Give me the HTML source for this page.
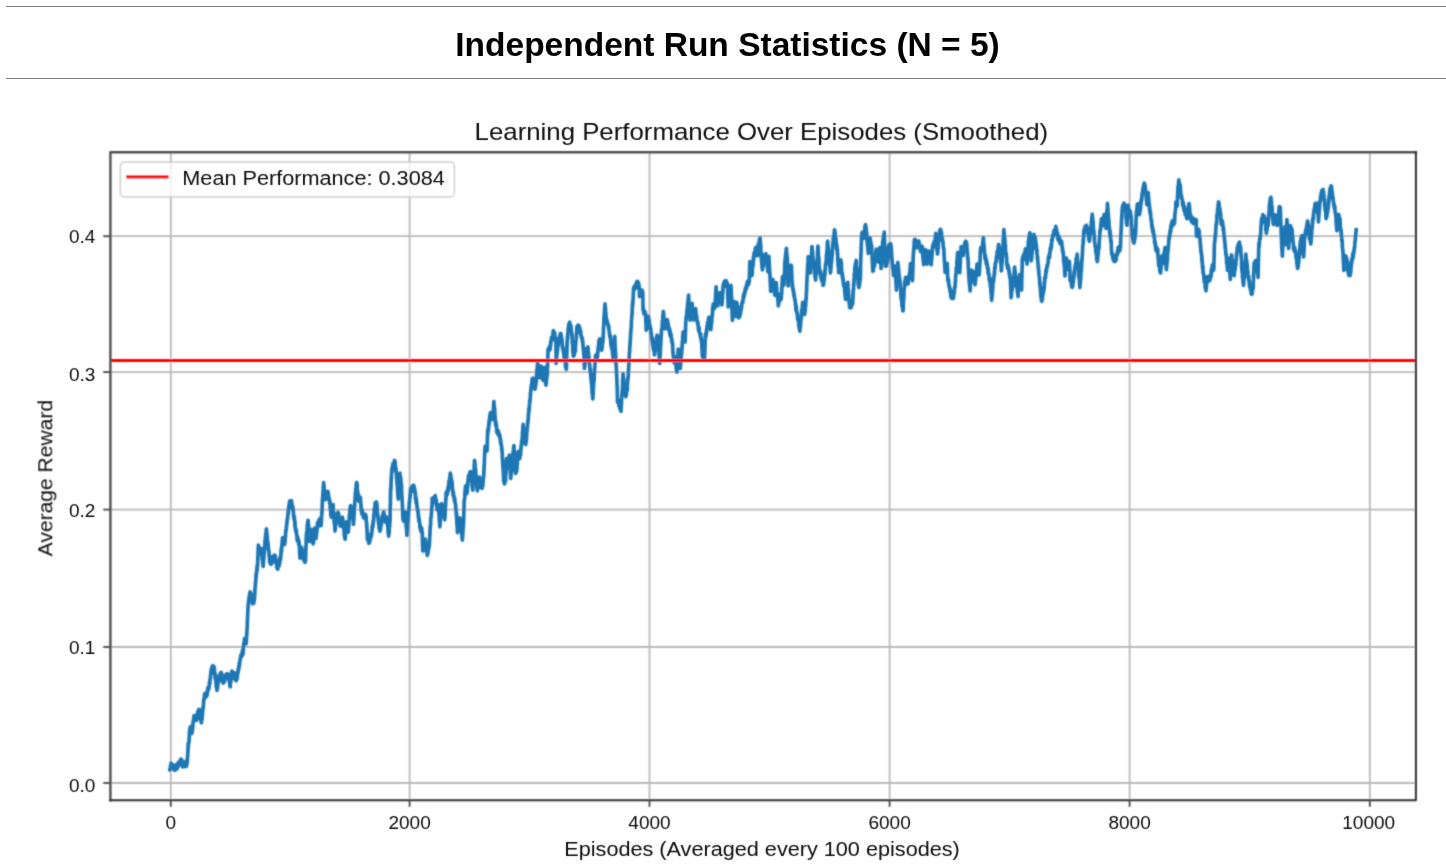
<!DOCTYPE html>
<html><head><meta charset="utf-8"><title>Independent Run Statistics</title>
<style>
html,body{margin:0;padding:0;background:#fff;}
body{width:1446px;height:864px;overflow:hidden;position:relative;font-family:"Liberation Sans",sans-serif;}
.hr{position:absolute;left:6px;right:0;height:1px;background:#808080;}
h1{will-change:transform;position:absolute;left:0;top:25px;width:1455px;margin:0;text-align:center;font-size:33.5px;line-height:40px;font-weight:bold;color:#000;white-space:nowrap;}
</style></head><body>
<div class="hr" style="top:6px"></div>
<h1>Independent Run Statistics (N = 5)</h1>
<div class="hr" style="top:78px"></div>
<svg width="1446" height="864" viewBox="0 0 1446 864" style="position:absolute;left:0;top:0">
<defs><filter id="b" x="0" y="0" width="1446" height="864" filterUnits="userSpaceOnUse"><feConvolveMatrix order="3" kernelMatrix="0.04 0.12 0.04 0.12 0.36 0.12 0.04 0.12 0.04" divisor="1" edgeMode="duplicate" preserveAlpha="false"/></filter><filter id="t" x="0" y="0" width="1446" height="864" filterUnits="userSpaceOnUse"><feConvolveMatrix order="3" kernelMatrix="0.01 0.08 0.01 0.08 0.64 0.08 0.01 0.08 0.01" divisor="1" edgeMode="duplicate" preserveAlpha="false"/></filter></defs>
<g id="chart" filter="url(#b)">
<line x1="170.8" y1="152.3" x2="170.8" y2="800.0" stroke="#b9b9b9" stroke-width="1.8"/>
<line x1="409.6" y1="152.3" x2="409.6" y2="800.0" stroke="#b9b9b9" stroke-width="1.8"/>
<line x1="649.5" y1="152.3" x2="649.5" y2="800.0" stroke="#b9b9b9" stroke-width="1.8"/>
<line x1="889.6" y1="152.3" x2="889.6" y2="800.0" stroke="#b9b9b9" stroke-width="1.8"/>
<line x1="1129.6" y1="152.3" x2="1129.6" y2="800.0" stroke="#b9b9b9" stroke-width="1.8"/>
<line x1="1369.8" y1="152.3" x2="1369.8" y2="800.0" stroke="#b9b9b9" stroke-width="1.8"/>
<line x1="110.4" y1="783.0" x2="1416.0" y2="783.0" stroke="#b9b9b9" stroke-width="1.8"/>
<line x1="110.4" y1="647.0" x2="1416.0" y2="647.0" stroke="#b9b9b9" stroke-width="1.8"/>
<line x1="110.4" y1="509.6" x2="1416.0" y2="509.6" stroke="#b9b9b9" stroke-width="1.8"/>
<line x1="110.4" y1="372.1" x2="1416.0" y2="372.1" stroke="#b9b9b9" stroke-width="1.8"/>
<line x1="110.4" y1="236.2" x2="1416.0" y2="236.2" stroke="#b9b9b9" stroke-width="1.8"/>
<path d="M169.7 770.0 169.9 769.3 170.0 768.6 170.2 767.5 170.3 766.7 170.5 765.8 170.6 765.4 170.8 764.4 170.9 763.8 171.0 763.0 171.1 763.9 171.2 763.8 171.4 764.7 171.5 764.4 171.7 764.5 171.8 765.8 172.0 766.6 172.1 765.6 172.3 766.0 172.4 767.6 172.6 765.4 172.7 764.6 172.9 768.2 173.0 766.7 173.2 765.5 173.3 767.3 173.5 768.4 173.6 768.6 173.8 768.7 173.8 769.4 173.9 769.8 174.1 768.9 174.2 767.9 174.4 769.6 174.5 770.0 174.7 768.2 174.8 769.5 175.0 770.2 175.1 768.0 175.3 766.8 175.4 768.7 175.6 768.4 175.7 769.7 175.9 765.5 176.0 766.5 176.2 766.0 176.3 764.6 176.5 767.4 176.6 768.0 176.8 765.7 176.9 769.2 177.1 768.1 177.2 767.7 177.4 767.2 177.5 768.0 177.6 764.0 177.7 767.2 177.8 766.9 178.0 762.8 178.1 765.9 178.3 764.5 178.4 766.0 178.6 763.6 178.7 764.0 178.9 764.3 179.0 761.9 179.2 764.1 179.3 762.6 179.5 763.3 179.6 761.3 179.8 763.7 179.9 762.6 180.1 761.0 180.2 762.0 180.4 762.6 180.5 762.1 180.7 759.2 180.8 760.2 180.8 760.0 181.0 760.1 181.1 759.6 181.3 762.9 181.4 759.3 181.6 762.9 181.7 764.6 181.9 760.1 182.0 762.8 182.2 761.5 182.3 764.6 182.5 766.9 182.6 766.7 182.8 764.7 182.9 765.7 182.9 766.3 183.1 766.7 183.2 766.2 183.4 764.5 183.5 766.1 183.7 765.4 183.8 765.0 184.0 764.0 184.1 765.8 184.3 765.5 184.4 764.8 184.6 764.4 184.7 762.5 184.9 763.8 185.0 766.5 185.2 764.1 185.3 761.8 185.5 766.5 185.6 765.0 185.8 766.7 185.9 764.0 186.1 763.0 186.2 761.2 186.4 765.8 186.5 766.2 186.7 761.9 186.8 762.1 187.0 764.1 187.1 761.6 187.1 762.0 187.3 759.7 187.4 758.5 187.6 757.8 187.6 755.0 187.7 755.4 187.9 751.1 188.0 750.3 188.2 744.9 188.3 743.1 188.3 746.8 188.5 743.2 188.6 743.9 188.8 742.5 188.9 742.5 189.1 740.3 189.2 739.8 189.2 737.1 189.4 734.1 189.5 732.4 189.7 731.0 189.8 728.7 189.9 728.5 190.0 728.8 190.1 729.3 190.3 728.8 190.4 726.7 190.6 729.5 190.7 730.1 190.9 731.8 191.0 731.1 191.2 729.2 191.3 729.2 191.5 733.4 191.6 732.1 191.8 733.4 191.9 732.8 192.1 730.9 192.2 731.7 192.2 731.8 192.4 730.5 192.5 729.4 192.7 727.9 192.8 726.5 193.0 722.3 193.1 723.3 193.3 721.0 193.4 721.1 193.6 718.9 193.7 718.9 193.9 717.4 194.0 715.8 194.0 715.7 194.2 715.9 194.3 715.7 194.5 716.2 194.6 715.9 194.8 717.7 194.9 717.4 195.1 718.7 195.2 715.8 195.4 719.8 195.5 717.3 195.7 717.7 195.8 718.9 196.0 718.8 196.1 720.1 196.3 719.9 196.4 719.9 196.4 719.8 196.6 720.4 196.7 719.0 196.9 716.3 197.0 717.6 197.2 714.3 197.3 719.0 197.5 713.0 197.6 715.7 197.8 715.2 197.9 711.1 198.1 713.4 198.2 714.0 198.4 712.4 198.5 711.3 198.7 711.0 198.8 709.7 198.9 709.5 199.0 709.7 199.1 711.1 199.3 710.2 199.4 713.6 199.6 712.2 199.7 712.1 199.9 715.4 200.0 718.3 200.2 718.1 200.3 716.4 200.5 719.3 200.6 718.2 200.8 719.6 200.9 720.7 201.1 719.7 201.2 722.4 201.4 722.6 201.4 722.8 201.5 721.2 201.7 719.2 201.8 717.9 202.0 719.3 202.1 719.2 202.3 715.1 202.4 715.6 202.6 712.0 202.7 708.3 202.9 709.9 203.0 709.1 203.2 706.2 203.3 706.1 203.5 705.2 203.6 701.4 203.8 699.2 203.8 701.1 203.9 699.8 204.1 698.3 204.2 699.3 204.4 698.2 204.5 694.8 204.7 694.1 204.7 693.8 204.8 693.8 205.0 694.5 205.1 693.3 205.3 695.2 205.4 696.9 205.6 695.7 205.7 693.4 205.9 695.7 206.0 697.0 206.2 695.5 206.3 694.8 206.5 696.1 206.5 694.8 206.6 695.3 206.8 694.5 206.9 692.3 207.1 695.4 207.2 693.4 207.4 690.3 207.5 692.7 207.7 690.4 207.8 687.8 208.0 688.8 208.1 689.9 208.3 690.0 208.4 688.6 208.6 687.8 208.7 688.0 208.9 686.3 209.0 688.1 209.2 685.8 209.3 685.5 209.3 685.8 209.5 682.0 209.6 681.6 209.8 684.3 209.9 681.2 210.1 679.1 210.2 679.1 210.4 676.7 210.5 676.9 210.7 674.2 210.8 674.8 211.0 670.6 211.1 674.4 211.3 670.4 211.4 668.7 211.6 668.9 211.7 668.1 211.7 668.4 211.9 667.5 212.0 668.8 212.2 671.1 212.3 666.2 212.5 668.9 212.6 667.8 212.8 668.7 212.9 665.6 213.1 666.4 213.2 669.1 213.4 668.3 213.5 671.1 213.7 667.1 213.8 668.6 214.0 671.1 214.1 667.0 214.2 666.8 214.3 669.1 214.4 670.2 214.6 672.9 214.7 672.9 214.9 672.5 215.0 675.3 215.2 678.8 215.3 679.5 215.5 675.7 215.6 679.4 215.8 679.3 215.9 683.0 216.1 682.8 216.2 687.0 216.4 687.0 216.5 687.9 216.7 687.9 216.8 688.9 216.9 690.0 217.0 690.4 217.1 689.2 217.3 687.6 217.4 689.2 217.6 686.6 217.7 685.3 217.9 683.3 218.0 682.8 218.2 681.8 218.3 679.3 218.5 682.9 218.6 681.3 218.8 679.1 218.9 680.4 219.0 678.8 219.1 678.6 219.2 675.0 219.4 677.1 219.5 678.2 219.7 679.8 219.8 679.6 220.0 679.1 220.1 674.4 220.3 673.5 220.4 676.9 220.6 675.8 220.7 677.2 220.9 675.1 221.0 675.4 221.2 672.3 221.3 675.4 221.5 673.9 221.6 674.4 221.8 674.2 221.8 673.8 221.9 674.8 222.1 675.6 222.2 677.7 222.4 678.4 222.5 677.6 222.7 678.5 222.8 682.5 223.0 681.4 223.1 683.0 223.2 683.1 223.3 682.4 223.4 681.7 223.6 681.9 223.7 681.8 223.9 681.9 224.0 678.3 224.2 679.0 224.3 679.4 224.5 681.8 224.6 675.9 224.8 678.9 224.9 676.8 225.1 678.0 225.2 676.0 225.3 677.3 225.4 679.2 225.5 677.0 225.7 677.0 225.8 676.7 226.0 674.6 226.1 676.7 226.3 675.2 226.4 674.0 226.6 675.2 226.7 674.7 226.9 676.2 227.0 674.7 227.2 673.7 227.3 676.7 227.5 675.3 227.6 674.7 227.8 674.2 227.8 673.8 227.9 674.4 228.1 675.2 228.2 677.7 228.4 677.2 228.5 675.3 228.7 678.6 228.8 677.0 229.0 680.5 229.1 679.0 229.3 679.7 229.4 682.8 229.6 683.3 229.7 681.9 229.9 685.7 230.0 686.6 230.1 685.6 230.2 686.9 230.3 684.4 230.5 682.9 230.6 681.9 230.8 678.4 230.9 681.7 231.1 679.1 231.2 675.6 231.4 675.2 231.5 672.8 231.7 672.8 231.8 672.3 231.8 671.0 232.0 671.8 232.1 672.5 232.3 674.2 232.4 675.1 232.6 672.2 232.7 672.0 232.9 674.2 233.0 673.1 233.2 673.4 233.3 676.0 233.5 677.1 233.6 675.1 233.8 674.6 233.9 676.1 234.0 672.6 234.1 675.3 234.2 673.8 234.4 678.5 234.5 677.2 234.7 676.5 234.8 676.1 235.0 674.0 235.1 678.1 235.3 679.9 235.4 676.1 235.6 678.8 235.7 679.0 235.9 675.4 236.0 679.9 236.2 680.8 236.3 679.1 236.5 678.9 236.6 679.7 236.8 678.6 236.8 679.5 236.9 679.3 237.1 676.7 237.2 678.4 237.4 675.3 237.5 672.4 237.7 674.1 237.8 671.7 238.0 673.0 238.1 669.6 238.3 672.4 238.4 668.5 238.6 669.5 238.7 666.9 238.9 666.5 238.9 669.0 239.0 666.6 239.2 664.8 239.3 662.5 239.5 665.8 239.6 664.3 239.8 661.7 239.9 661.8 240.1 658.9 240.2 658.1 240.4 657.6 240.5 658.8 240.7 657.9 240.8 655.4 241.0 657.1 241.0 657.2 241.1 655.8 241.3 657.0 241.4 654.4 241.6 654.4 241.7 655.1 241.9 654.0 242.0 655.1 242.2 651.3 242.3 655.6 242.5 651.5 242.6 652.3 242.8 649.9 242.9 653.0 243.1 653.8 243.1 653.3 243.2 651.6 243.4 646.2 243.5 646.1 243.7 645.3 243.8 643.2 244.0 645.2 244.1 642.3 244.3 640.7 244.4 639.6 244.4 638.7 244.6 639.0 244.7 639.0 244.9 641.0 245.0 641.2 245.2 642.0 245.3 643.2 245.5 639.4 245.6 641.2 245.8 642.7 245.9 642.0 246.1 643.0 246.1 643.9 246.2 642.2 246.4 640.4 246.5 637.2 246.7 634.6 246.8 634.5 247.0 629.8 247.1 628.7 247.2 628.9 247.3 624.7 247.4 620.4 247.6 617.6 247.7 614.7 247.9 610.6 247.9 608.9 248.0 608.7 248.2 603.8 248.3 603.9 248.5 604.4 248.6 601.4 248.8 599.5 248.9 598.5 249.1 597.8 249.2 597.9 249.4 595.2 249.5 596.1 249.7 596.3 249.8 593.3 250.0 592.8 250.0 592.1 250.1 591.9 250.3 593.0 250.4 592.5 250.6 595.9 250.7 593.4 250.9 598.3 251.0 597.7 251.2 594.7 251.3 599.4 251.5 601.5 251.6 598.3 251.8 601.3 251.9 600.0 252.1 601.7 252.1 600.9 252.2 601.8 252.4 599.9 252.5 599.0 252.7 601.9 252.8 603.9 253.0 600.1 253.1 602.4 253.3 601.1 253.4 600.2 253.6 601.7 253.7 603.3 253.9 598.4 254.0 601.3 254.2 600.9 254.2 597.8 254.3 600.8 254.5 598.7 254.6 592.3 254.8 594.5 254.9 589.8 255.1 587.3 255.2 588.1 255.4 583.8 255.5 581.8 255.6 583.4 255.7 582.1 255.8 580.2 256.0 575.1 256.1 573.6 256.3 577.0 256.4 572.3 256.6 573.0 256.7 569.7 256.9 570.0 257.0 566.9 257.2 570.6 257.3 565.0 257.5 565.3 257.6 564.0 257.6 566.2 257.8 558.1 257.9 556.4 258.1 552.2 258.2 548.6 258.3 545.5 258.4 545.2 258.5 546.2 258.7 546.2 258.8 548.0 259.0 547.7 259.1 547.3 259.3 549.0 259.4 550.3 259.6 553.0 259.7 550.0 259.9 552.0 260.0 554.0 260.2 551.3 260.3 552.4 260.4 553.0 260.5 553.3 260.6 553.8 260.8 552.6 260.9 553.4 261.1 550.6 261.2 549.3 261.4 548.7 261.4 550.0 261.5 550.8 261.7 550.8 261.8 555.1 262.0 552.2 262.1 558.1 262.3 560.1 262.4 557.7 262.6 558.5 262.7 563.1 262.9 561.9 263.0 565.0 263.2 565.3 263.2 566.5 263.3 564.5 263.5 562.1 263.6 559.2 263.8 559.0 263.9 553.9 264.1 554.2 264.2 552.0 264.4 551.9 264.5 546.6 264.7 549.5 264.8 544.3 265.0 540.9 265.0 544.9 265.1 544.0 265.3 539.5 265.4 536.8 265.6 536.8 265.7 534.1 265.9 533.2 266.0 534.2 266.2 531.1 266.3 529.4 266.4 528.8 266.5 529.4 266.6 531.6 266.8 533.6 266.9 533.3 267.1 535.6 267.2 539.7 267.4 539.2 267.5 539.6 267.7 544.2 267.8 543.0 268.0 542.6 268.1 546.4 268.1 544.3 268.3 546.3 268.4 549.0 268.6 549.5 268.7 549.8 268.9 551.4 269.0 552.6 269.2 556.9 269.3 555.0 269.5 556.6 269.6 561.6 269.8 559.5 269.9 562.6 270.1 563.4 270.1 563.3 270.2 562.5 270.4 563.3 270.5 563.6 270.7 564.2 270.8 562.4 271.0 564.1 271.1 564.2 271.3 559.8 271.4 563.8 271.6 561.5 271.7 560.0 271.9 560.2 272.0 563.2 272.2 562.0 272.3 557.3 272.5 560.0 272.6 559.4 272.8 559.1 272.9 558.3 272.9 556.7 273.1 560.3 273.2 557.0 273.4 557.7 273.5 557.0 273.7 556.5 273.8 558.7 274.0 557.8 274.1 555.7 274.3 555.1 274.4 555.8 274.6 556.5 274.7 555.8 274.7 555.8 274.9 556.2 275.0 556.7 275.2 558.0 275.3 555.6 275.5 561.7 275.6 558.2 275.8 559.3 275.9 563.2 276.1 561.9 276.2 562.2 276.4 561.8 276.5 560.8 276.7 564.4 276.8 566.8 277.0 563.9 277.1 568.4 277.3 564.8 277.4 566.5 277.6 568.4 277.7 568.6 277.8 569.2 277.9 568.1 278.0 567.1 278.2 565.2 278.3 564.7 278.5 564.3 278.6 563.1 278.8 565.4 278.9 563.2 279.1 561.0 279.2 565.8 279.4 561.1 279.5 559.8 279.7 563.4 279.8 562.7 280.0 558.2 280.1 557.0 280.3 557.2 280.4 560.2 280.6 557.2 280.6 556.2 280.7 556.2 280.9 556.9 281.0 551.1 281.2 551.4 281.3 548.3 281.5 551.9 281.6 550.5 281.8 548.0 281.9 544.8 282.1 544.7 282.2 540.0 282.4 541.1 282.5 538.7 282.6 537.7 282.7 538.1 282.8 538.6 283.0 539.9 283.1 540.8 283.3 540.5 283.4 538.8 283.6 542.0 283.7 541.0 283.9 543.6 284.0 540.5 284.2 539.7 284.3 542.2 284.5 544.6 284.6 543.9 284.7 543.8 284.8 543.8 284.9 542.1 285.1 540.7 285.2 537.7 285.4 537.1 285.5 535.7 285.7 532.7 285.8 530.3 286.0 530.8 286.1 530.6 286.3 528.5 286.4 526.6 286.6 525.0 286.7 525.3 286.8 522.1 286.9 523.0 287.0 523.0 287.2 519.4 287.3 518.8 287.5 519.1 287.6 519.1 287.8 515.9 287.9 515.0 288.1 513.6 288.2 510.4 288.4 513.4 288.5 510.1 288.7 506.8 288.8 508.3 289.0 504.9 289.1 504.9 289.3 505.7 289.4 503.1 289.6 505.5 289.6 501.1 289.7 503.9 289.9 504.1 290.0 505.4 290.2 504.3 290.3 502.9 290.5 502.4 290.6 501.9 290.8 503.7 290.9 500.5 291.1 501.9 291.2 501.0 291.4 501.0 291.4 500.7 291.5 502.4 291.7 501.9 291.8 503.7 292.0 504.7 292.1 506.2 292.3 506.8 292.4 507.6 292.6 509.4 292.7 506.1 292.9 509.5 293.0 508.3 293.1 511.0 293.2 509.3 293.3 510.7 293.5 513.3 293.6 516.7 293.8 516.3 293.9 516.9 294.1 519.7 294.2 516.7 294.4 516.6 294.5 519.6 294.7 520.9 294.8 524.5 295.0 526.1 295.1 522.1 295.1 527.2 295.3 528.0 295.4 527.8 295.6 528.0 295.7 531.1 295.9 529.5 296.0 529.6 296.2 531.6 296.3 530.0 296.5 534.2 296.6 534.2 296.8 535.9 296.9 537.0 297.1 535.6 297.2 540.6 297.2 536.6 297.4 540.4 297.5 536.6 297.7 540.5 297.8 539.0 298.0 540.9 298.1 540.3 298.3 539.1 298.4 540.5 298.6 543.0 298.7 544.4 298.9 541.4 299.0 541.6 299.2 543.4 299.3 544.9 299.3 544.5 299.5 547.1 299.6 552.4 299.8 554.9 299.9 557.4 300.0 558.0 300.1 558.1 300.2 556.9 300.4 554.4 300.5 556.7 300.7 554.4 300.8 552.5 301.0 554.8 301.1 552.8 301.3 551.7 301.4 550.6 301.6 549.0 301.7 547.4 301.7 548.1 301.9 549.8 302.0 548.9 302.2 550.7 302.3 552.0 302.5 554.6 302.6 555.1 302.8 555.1 302.9 554.0 303.1 556.7 303.2 556.8 303.4 556.3 303.5 559.7 303.7 558.9 303.8 558.0 304.0 560.4 304.1 560.2 304.2 560.9 304.3 559.7 304.4 560.3 304.6 558.9 304.7 558.4 304.9 557.1 305.0 562.4 305.2 559.3 305.3 559.8 305.5 561.2 305.6 559.0 305.6 558.1 305.8 550.4 305.9 548.5 306.1 543.0 306.2 540.0 306.2 538.7 306.4 534.8 306.5 532.9 306.7 532.4 306.8 533.9 307.0 531.8 307.1 530.3 307.3 525.4 307.4 523.9 307.6 524.1 307.7 523.2 307.9 521.7 308.0 520.8 308.1 520.2 308.2 521.1 308.3 522.8 308.5 525.7 308.6 527.5 308.8 529.1 308.9 533.8 309.1 532.5 309.2 535.1 309.4 535.6 309.5 538.4 309.7 540.8 309.7 541.4 309.8 540.2 310.0 539.4 310.1 538.0 310.3 534.0 310.4 532.8 310.6 537.0 310.7 534.2 310.9 531.9 311.0 529.9 311.1 529.3 311.2 531.1 311.3 530.3 311.5 532.0 311.6 534.9 311.8 534.7 311.9 536.7 312.1 536.2 312.2 540.1 312.4 536.7 312.5 537.1 312.7 540.9 312.8 543.2 313.0 542.4 313.1 543.9 313.2 543.6 313.3 542.4 313.4 542.5 313.6 541.7 313.7 540.7 313.9 535.7 314.0 532.8 314.2 531.5 314.3 531.3 314.5 530.1 314.6 528.9 314.6 528.2 314.8 530.1 314.9 531.0 315.1 532.2 315.2 533.0 315.4 533.8 315.5 536.1 315.7 536.4 315.8 537.4 316.0 538.0 316.0 538.5 316.1 536.9 316.3 534.0 316.4 535.0 316.6 532.5 316.7 533.2 316.9 530.0 317.0 528.7 317.2 527.9 317.3 526.2 317.4 525.1 317.5 522.8 317.6 527.9 317.8 522.1 317.9 523.8 318.1 525.2 318.2 524.3 318.4 524.3 318.5 524.2 318.7 524.7 318.8 522.7 319.0 524.5 319.1 519.7 319.3 521.4 319.4 520.1 319.6 519.4 319.7 520.3 319.9 520.9 320.0 518.8 320.1 518.5 320.2 519.5 320.3 520.5 320.5 523.1 320.6 524.0 320.8 523.7 320.9 524.3 321.1 525.7 321.1 525.7 321.2 523.1 321.4 520.9 321.5 517.9 321.7 514.9 321.8 511.8 322.0 512.4 322.1 508.1 322.2 506.6 322.3 503.2 322.4 500.1 322.6 498.9 322.7 497.4 322.9 494.0 323.0 491.9 323.2 491.2 323.3 487.7 323.5 484.5 323.6 482.6 323.6 482.6 323.8 484.5 323.9 484.7 324.1 487.1 324.2 490.1 324.4 490.4 324.5 490.3 324.7 492.3 324.8 495.1 325.0 496.9 325.1 498.3 325.3 499.3 325.3 498.8 325.4 499.7 325.6 498.8 325.7 498.6 325.9 498.0 326.0 495.2 326.2 495.9 326.3 496.4 326.5 497.2 326.6 495.1 326.8 491.7 326.9 493.6 327.1 494.1 327.2 495.2 327.4 493.4 327.5 493.4 327.7 492.2 327.8 491.8 327.8 491.9 328.0 491.4 328.1 494.2 328.3 495.1 328.4 494.1 328.6 496.9 328.7 497.5 328.9 496.9 329.0 498.4 329.2 499.0 329.3 500.8 329.5 500.6 329.6 503.1 329.8 500.4 329.9 503.1 329.9 501.5 330.1 504.9 330.2 508.1 330.4 508.8 330.5 510.0 330.7 511.8 330.8 515.5 331.0 513.7 331.1 516.7 331.2 516.7 331.3 517.1 331.4 516.4 331.6 514.3 331.7 514.6 331.9 514.4 332.0 510.1 332.2 511.0 332.3 509.4 332.5 506.3 332.6 507.7 332.8 506.2 332.9 506.6 333.1 504.6 333.1 506.0 333.2 506.9 333.4 510.9 333.5 512.0 333.7 513.9 333.8 516.5 334.0 518.6 334.1 521.5 334.3 523.8 334.4 522.5 334.6 523.2 334.7 525.5 334.9 528.8 335.0 531.1 335.0 530.7 335.2 529.4 335.3 527.7 335.5 525.9 335.6 525.2 335.8 525.1 335.9 520.5 336.1 523.3 336.2 518.3 336.4 519.3 336.5 517.3 336.7 516.6 336.8 514.3 336.8 514.1 337.0 515.3 337.1 513.5 337.3 517.7 337.4 513.9 337.6 513.1 337.7 512.9 337.9 512.3 338.0 512.1 338.2 512.6 338.2 512.8 338.3 512.7 338.5 514.4 338.6 513.6 338.8 516.2 338.9 517.8 339.1 519.0 339.2 519.9 339.4 518.9 339.5 522.5 339.7 521.2 339.8 523.5 340.0 524.6 340.1 524.7 340.3 525.1 340.3 526.1 340.4 524.7 340.6 523.8 340.7 522.4 340.9 524.9 341.0 522.6 341.2 519.5 341.3 522.9 341.5 523.8 341.6 523.2 341.8 518.9 341.9 519.4 342.1 519.1 342.2 518.5 342.4 517.5 342.4 517.0 342.5 519.2 342.7 520.6 342.8 519.0 343.0 521.6 343.1 523.8 343.3 524.5 343.4 526.6 343.6 528.2 343.7 529.0 343.9 529.0 344.0 528.1 344.2 532.6 344.3 535.1 344.5 536.6 344.6 534.9 344.8 536.1 344.9 538.4 345.1 539.2 345.1 539.2 345.2 538.3 345.4 535.5 345.5 535.0 345.7 530.9 345.8 530.2 346.0 528.4 346.1 526.1 346.3 523.5 346.4 522.6 346.5 521.8 346.6 521.9 346.7 522.4 346.9 524.0 347.0 525.5 347.2 526.6 347.3 524.5 347.5 526.8 347.6 527.0 347.8 526.8 347.9 527.1 348.1 529.9 348.2 530.3 348.3 532.2 348.4 530.8 348.5 528.6 348.7 526.1 348.8 527.1 349.0 520.7 349.1 519.9 349.3 516.8 349.4 515.7 349.6 513.8 349.7 512.7 349.9 508.9 350.0 507.8 350.0 508.6 350.2 507.6 350.3 507.9 350.5 506.8 350.6 505.7 350.8 508.3 350.9 510.7 351.1 508.0 351.2 506.3 351.4 509.6 351.5 509.4 351.7 511.1 351.8 511.1 352.0 509.3 352.1 510.5 352.1 507.5 352.3 513.7 352.4 513.7 352.6 516.8 352.7 518.3 352.9 517.6 353.0 519.5 353.2 520.4 353.3 522.1 353.5 524.4 353.5 524.5 353.6 521.3 353.8 520.1 353.9 516.9 354.1 515.0 354.2 510.4 354.4 506.4 354.5 507.9 354.7 505.1 354.8 501.3 354.9 500.1 355.0 499.2 355.1 497.9 355.3 495.7 355.4 492.3 355.6 494.8 355.7 489.3 355.9 489.7 356.0 488.2 356.2 487.6 356.3 483.8 356.5 484.9 356.6 482.9 356.7 482.5 356.8 483.7 356.9 483.8 357.1 483.8 357.2 488.0 357.4 491.1 357.5 492.2 357.7 490.8 357.8 493.0 358.0 495.1 358.1 493.3 358.3 496.3 358.3 497.0 358.4 500.8 358.6 497.1 358.7 501.0 358.9 498.4 359.0 495.8 359.2 501.3 359.3 497.1 359.5 499.9 359.6 501.6 359.8 498.1 359.9 497.0 360.1 501.0 360.2 499.4 360.4 497.3 360.4 497.6 360.5 499.7 360.7 503.4 360.8 502.6 361.0 505.6 361.1 508.5 361.3 509.3 361.4 510.9 361.6 511.9 361.7 508.5 361.8 514.0 361.9 512.7 362.0 512.3 362.2 511.1 362.3 510.6 362.5 511.8 362.6 514.1 362.8 512.5 362.9 513.5 363.1 514.3 363.2 516.9 363.4 515.6 363.5 516.3 363.7 517.9 363.8 517.2 363.9 517.8 364.0 516.9 364.1 517.6 364.3 517.4 364.4 517.4 364.6 516.3 364.7 515.2 364.9 516.3 365.0 515.9 365.2 518.4 365.3 518.1 365.5 514.4 365.6 517.1 365.8 515.9 365.9 516.4 366.0 515.9 366.1 516.9 366.2 520.7 366.4 522.7 366.5 522.3 366.7 523.9 366.8 528.0 367.0 529.1 367.1 532.7 367.3 536.7 367.4 539.4 367.4 536.5 367.6 539.8 367.7 539.8 367.9 537.4 368.0 535.8 368.2 540.3 368.3 540.2 368.5 542.3 368.6 542.3 368.8 541.6 368.9 543.3 369.1 539.6 369.2 541.4 369.4 541.5 369.4 542.6 369.5 541.8 369.7 539.6 369.8 541.9 370.0 538.0 370.1 540.2 370.3 537.4 370.4 538.0 370.6 538.0 370.7 536.6 370.9 534.0 371.0 537.4 371.2 535.0 371.3 533.7 371.5 534.2 371.5 531.9 371.6 534.9 371.8 531.7 371.9 531.0 372.1 530.0 372.2 527.0 372.4 525.6 372.5 527.1 372.7 526.4 372.8 527.1 373.0 524.7 373.1 521.1 373.3 523.0 373.3 523.1 373.4 522.5 373.6 519.9 373.7 515.7 373.9 518.3 374.0 513.6 374.2 514.3 374.3 509.1 374.5 511.6 374.6 507.5 374.8 509.2 374.9 508.5 375.0 507.0 375.1 502.9 375.2 502.9 375.4 502.6 375.5 504.9 375.7 503.9 375.8 503.2 376.0 503.0 376.1 502.7 376.3 502.2 376.4 502.3 376.4 501.9 376.6 503.6 376.7 503.2 376.9 504.5 377.0 507.0 377.2 507.8 377.3 511.7 377.5 514.7 377.6 513.8 377.8 515.2 377.8 515.3 377.9 517.4 378.1 517.4 378.2 520.1 378.4 521.0 378.5 522.2 378.7 524.0 378.8 523.8 379.0 525.1 379.1 528.7 379.3 527.0 379.4 529.4 379.6 529.3 379.7 530.1 379.9 531.2 379.9 530.9 380.0 530.4 380.2 528.9 380.3 528.0 380.5 529.8 380.6 526.6 380.8 527.9 380.9 525.5 381.1 525.6 381.2 522.2 381.4 522.6 381.5 524.1 381.7 521.9 381.8 521.3 381.9 519.3 382.0 520.2 382.1 516.3 382.3 516.3 382.4 518.0 382.6 518.1 382.7 515.5 382.9 515.3 383.0 514.5 383.2 514.3 383.3 512.4 383.5 512.2 383.6 513.0 383.8 511.8 383.8 512.3 383.9 513.2 384.1 513.2 384.2 515.6 384.4 515.2 384.5 516.7 384.7 515.9 384.8 517.2 385.0 520.0 385.1 520.4 385.3 520.6 385.4 521.8 385.4 521.7 385.6 521.3 385.7 522.4 385.9 519.6 386.0 520.5 386.2 520.1 386.3 518.5 386.5 517.1 386.6 518.5 386.8 517.7 386.8 517.5 386.9 518.7 387.1 520.3 387.2 520.5 387.4 523.8 387.5 522.2 387.7 526.4 387.8 525.4 388.0 528.9 388.1 532.3 388.3 532.4 388.4 534.0 388.6 536.1 388.6 536.1 388.7 534.9 388.9 533.1 389.0 534.0 389.2 531.4 389.3 529.5 389.5 525.1 389.6 526.6 389.8 521.8 389.9 523.2 390.0 519.7 390.1 520.5 390.2 506.8 390.4 503.4 390.5 494.5 390.6 488.7 390.7 489.0 390.8 489.5 391.0 486.6 391.1 479.6 391.3 478.9 391.4 475.4 391.6 473.3 391.7 471.5 391.9 473.0 391.9 469.3 392.0 468.4 392.2 467.7 392.3 468.8 392.5 468.3 392.6 465.0 392.8 468.6 392.9 463.7 393.1 464.5 393.2 465.2 393.4 466.7 393.5 462.8 393.7 463.3 393.8 464.5 394.0 462.7 394.1 462.5 394.3 461.3 394.4 460.3 394.4 460.4 394.6 461.4 394.7 461.8 394.9 465.0 395.0 461.0 395.2 463.0 395.3 468.0 395.5 467.2 395.6 466.3 395.8 469.0 395.9 471.1 396.1 469.3 396.1 471.8 396.2 471.7 396.4 473.7 396.5 475.8 396.7 479.8 396.8 478.0 397.0 481.3 397.1 485.1 397.3 483.9 397.4 485.3 397.6 490.9 397.7 491.9 397.9 493.8 398.0 496.1 398.2 497.5 398.2 499.1 398.3 496.0 398.5 494.0 398.6 490.3 398.8 489.5 398.9 490.7 399.1 486.1 399.2 485.0 399.4 481.1 399.5 482.5 399.7 478.0 399.8 475.0 400.0 474.1 400.0 473.1 400.1 474.7 400.3 475.9 400.4 477.4 400.6 478.6 400.7 478.2 400.9 478.5 401.0 484.1 401.2 483.5 401.3 485.6 401.4 484.9 401.5 484.8 401.6 488.4 401.8 496.1 401.9 495.5 402.1 499.3 402.2 500.6 402.4 505.3 402.5 508.7 402.7 512.2 402.8 515.6 403.0 518.5 403.1 520.2 403.1 520.2 403.3 519.9 403.4 518.8 403.6 521.2 403.7 518.1 403.9 517.4 404.0 515.5 404.2 517.7 404.3 513.6 404.5 512.2 404.6 512.5 404.8 514.4 404.9 512.2 405.1 513.1 405.1 512.2 405.2 512.4 405.4 514.9 405.5 519.0 405.7 517.2 405.8 518.3 406.0 523.2 406.1 526.4 406.3 527.8 406.4 527.3 406.6 530.0 406.7 531.9 406.9 534.1 406.9 535.3 407.0 533.3 407.2 532.3 407.3 528.8 407.5 528.2 407.6 523.5 407.8 521.8 407.9 521.8 408.1 517.5 408.2 518.5 408.4 514.0 408.5 513.0 408.7 510.7 408.8 508.3 408.9 508.2 409.0 508.9 409.1 508.4 409.3 502.1 409.4 503.1 409.6 500.8 409.7 498.0 409.9 498.6 410.0 495.1 410.2 495.0 410.3 495.7 410.5 489.5 410.6 491.0 410.7 490.6 410.8 488.2 410.9 490.6 411.1 490.2 411.2 488.9 411.4 491.4 411.5 487.0 411.7 490.2 411.8 488.6 412.0 487.1 412.1 488.4 412.3 488.0 412.4 489.9 412.6 485.8 412.7 487.9 412.9 487.4 413.0 490.7 413.2 486.0 413.3 489.6 413.5 485.1 413.6 488.1 413.8 487.3 413.9 487.7 414.1 486.9 414.2 486.4 414.2 486.8 414.4 489.5 414.5 489.8 414.7 489.0 414.8 493.0 415.0 491.2 415.1 492.2 415.3 492.4 415.4 497.5 415.6 499.3 415.7 495.8 415.9 498.9 416.0 501.1 416.2 503.3 416.2 498.4 416.3 501.7 416.5 503.5 416.6 500.9 416.8 505.1 416.9 505.8 417.1 507.7 417.2 506.4 417.4 509.1 417.5 508.4 417.7 511.5 417.8 511.7 418.0 511.8 418.1 511.0 418.3 517.2 418.3 516.7 418.4 516.9 418.6 515.3 418.7 516.8 418.9 521.3 419.0 520.7 419.2 519.0 419.3 521.5 419.5 522.7 419.6 523.1 419.8 522.8 419.9 527.6 420.1 527.4 420.2 527.1 420.4 525.9 420.4 527.7 420.5 528.9 420.7 530.6 420.8 528.7 421.0 531.5 421.1 530.1 421.3 528.8 421.4 527.7 421.6 528.5 421.7 528.2 421.9 530.7 422.0 531.8 422.2 533.8 422.2 531.5 422.3 533.3 422.5 542.1 422.6 545.8 422.8 550.7 422.8 550.9 422.9 549.7 423.1 550.3 423.2 549.5 423.4 550.9 423.5 549.3 423.7 548.2 423.8 548.2 424.0 544.9 424.1 543.9 424.3 543.9 424.4 541.1 424.6 542.3 424.7 541.3 424.9 542.1 425.0 540.4 425.2 539.0 425.3 539.3 425.3 540.3 425.5 539.7 425.6 541.0 425.8 543.0 425.9 541.9 426.1 544.4 426.2 546.5 426.4 545.4 426.5 549.3 426.7 550.6 426.8 548.9 427.0 552.3 427.1 554.3 427.3 554.5 427.4 555.5 427.4 555.2 427.6 553.8 427.7 554.3 427.9 552.8 428.0 549.6 428.2 551.2 428.3 550.9 428.5 549.9 428.6 546.5 428.8 547.5 428.9 548.2 429.1 545.3 429.2 546.1 429.4 545.4 429.4 542.7 429.5 542.3 429.7 537.7 429.8 537.0 430.0 532.0 430.1 528.2 430.1 528.8 430.3 526.9 430.4 525.7 430.6 523.9 430.7 519.1 430.9 518.0 431.0 517.7 431.2 515.9 431.3 513.2 431.5 513.8 431.6 511.0 431.8 507.0 431.9 506.3 432.1 505.4 432.2 501.7 432.2 498.4 432.4 501.1 432.5 500.9 432.7 503.4 432.8 497.8 433.0 503.0 433.1 499.9 433.3 501.6 433.4 499.4 433.6 500.1 433.7 501.5 433.9 499.6 434.0 501.1 434.2 499.0 434.3 498.3 434.5 498.5 434.6 497.9 434.8 498.4 434.9 500.7 435.1 496.3 435.2 495.5 435.4 498.0 435.5 498.7 435.7 498.2 435.7 498.3 435.8 499.4 436.0 499.3 436.1 501.5 436.3 499.8 436.4 502.8 436.6 506.2 436.7 504.5 436.9 506.5 437.0 508.3 437.1 509.6 437.2 509.8 437.3 510.0 437.5 510.2 437.6 505.3 437.8 504.7 437.9 507.2 438.1 508.0 438.2 504.7 438.4 505.3 438.5 505.1 438.5 506.1 438.7 508.2 438.8 511.2 439.0 514.7 439.1 515.2 439.3 518.6 439.4 521.9 439.6 520.8 439.7 523.5 439.9 526.4 439.9 526.8 440.0 523.8 440.2 522.7 440.3 518.8 440.5 518.6 440.6 513.7 440.8 513.7 440.9 510.7 441.1 508.2 441.2 506.4 441.2 505.9 441.4 505.2 441.5 506.5 441.7 503.5 441.8 507.9 442.0 509.0 442.1 507.5 442.3 507.7 442.4 507.1 442.6 508.6 442.7 506.7 442.9 508.8 443.0 507.4 443.2 507.3 443.3 508.4 443.3 508.2 443.5 506.6 443.6 513.4 443.8 512.5 443.9 510.7 444.1 516.7 444.2 516.2 444.4 517.8 444.5 519.3 444.7 519.7 444.7 519.7 444.8 518.7 445.0 516.1 445.1 514.5 445.3 509.0 445.4 507.0 445.6 505.3 445.7 501.2 445.9 498.5 446.0 496.5 446.1 492.7 446.2 496.8 446.3 492.4 446.5 493.7 446.6 492.8 446.8 491.9 446.9 493.7 447.1 494.2 447.2 494.6 447.4 492.8 447.5 490.8 447.7 492.7 447.8 488.5 448.0 490.7 448.1 491.2 448.2 491.2 448.3 487.6 448.4 485.7 448.6 489.5 448.7 484.8 448.9 481.6 449.0 481.0 449.2 481.9 449.2 483.8 449.3 480.7 449.5 481.6 449.6 478.8 449.8 478.1 449.9 477.3 450.1 474.7 450.2 473.9 450.3 473.2 450.4 473.6 450.5 475.4 450.7 474.7 450.8 476.9 451.0 476.3 451.1 478.4 451.3 478.5 451.4 482.2 451.6 481.4 451.7 481.9 451.7 484.8 451.9 480.6 452.0 482.7 452.2 483.0 452.3 487.0 452.5 489.0 452.6 490.5 452.8 491.1 452.9 490.3 453.1 495.5 453.1 493.5 453.2 493.2 453.4 492.4 453.5 495.7 453.7 494.9 453.8 495.7 454.0 497.5 454.1 498.2 454.3 497.1 454.4 501.3 454.6 498.2 454.7 498.7 454.9 501.8 455.0 502.2 455.1 502.7 455.2 502.1 455.3 504.3 455.5 504.6 455.6 504.1 455.8 509.5 455.9 507.9 456.1 510.5 456.2 513.5 456.4 513.7 456.5 517.7 456.5 512.7 456.7 516.4 456.8 520.6 457.0 525.6 457.1 525.7 457.3 527.7 457.4 532.2 457.5 532.6 457.6 532.4 457.7 531.9 457.9 529.1 458.0 527.9 458.2 528.2 458.3 525.8 458.5 525.3 458.6 522.0 458.8 522.1 458.9 519.6 459.1 518.5 459.2 519.3 459.3 518.0 459.4 518.5 459.5 517.9 459.7 519.2 459.8 519.5 460.0 518.0 460.1 522.0 460.3 520.4 460.4 521.9 460.6 520.3 460.7 525.0 460.7 524.9 460.9 525.8 461.0 525.1 461.2 527.2 461.3 531.7 461.5 530.6 461.6 533.1 461.8 534.4 461.9 533.9 462.1 538.6 462.2 537.8 462.4 540.1 462.4 539.8 462.5 536.7 462.7 535.7 462.8 533.9 463.0 530.9 463.1 527.2 463.3 527.1 463.4 526.0 463.5 523.7 463.6 522.9 463.7 516.8 463.9 511.8 464.0 508.1 464.2 500.0 464.2 500.2 464.3 500.3 464.5 498.6 464.6 498.7 464.8 496.4 464.9 493.1 465.1 491.5 465.2 489.2 465.4 487.6 465.5 486.0 465.6 486.3 465.7 486.2 465.8 487.0 466.0 488.4 466.1 488.1 466.3 489.4 466.4 487.9 466.6 491.9 466.7 492.0 466.9 493.2 466.9 493.7 467.0 491.8 467.2 492.1 467.3 489.4 467.5 487.8 467.6 483.0 467.8 485.1 467.9 483.1 468.1 480.0 468.2 479.4 468.3 479.9 468.4 477.0 468.5 475.6 468.7 479.0 468.8 476.7 469.0 475.5 469.1 477.9 469.3 475.2 469.4 474.2 469.6 474.5 469.7 472.9 469.9 473.5 470.0 472.8 470.2 471.6 470.3 471.5 470.4 471.5 470.5 471.9 470.6 473.1 470.8 474.7 470.9 475.2 471.1 476.6 471.2 476.1 471.4 477.2 471.5 480.4 471.7 476.7 471.8 481.1 471.8 483.2 472.0 479.2 472.1 486.2 472.3 482.2 472.4 487.0 472.6 489.1 472.7 490.2 472.8 489.6 472.9 487.8 473.0 484.8 473.2 484.5 473.3 480.4 473.5 478.6 473.6 476.6 473.8 474.4 473.9 472.1 474.1 468.9 474.2 464.2 474.4 464.7 474.5 460.3 474.6 460.8 474.7 460.8 474.8 462.5 475.0 463.6 475.1 465.2 475.3 467.4 475.4 468.5 475.6 468.7 475.7 473.6 475.9 472.8 476.0 477.1 476.0 475.1 476.2 475.9 476.3 479.6 476.5 482.0 476.6 480.7 476.8 483.5 476.9 487.8 477.1 486.4 477.2 488.7 477.4 490.8 477.4 490.0 477.5 488.8 477.7 487.0 477.8 488.4 478.0 488.0 478.1 486.9 478.3 485.7 478.4 481.9 478.6 484.2 478.7 484.1 478.9 480.0 479.0 481.6 479.2 478.9 479.3 478.4 479.4 477.7 479.5 477.0 479.6 479.7 479.8 478.9 479.9 480.7 480.1 481.1 480.2 483.8 480.4 484.7 480.5 485.1 480.7 486.9 480.8 487.3 480.8 487.0 481.0 486.2 481.1 486.6 481.3 486.3 481.4 485.0 481.6 484.8 481.7 487.1 481.9 487.7 482.0 488.4 482.2 487.4 482.3 484.1 482.5 485.5 482.6 482.6 482.8 485.9 482.9 485.1 482.9 483.4 483.1 482.1 483.2 479.7 483.4 476.9 483.5 478.1 483.7 476.4 483.8 473.0 483.9 472.4 484.0 469.1 484.1 465.1 484.3 465.1 484.4 458.7 484.6 456.7 484.7 452.8 484.9 450.0 485.0 446.9 485.0 447.3 485.2 446.5 485.3 447.4 485.5 450.0 485.6 446.3 485.8 447.2 485.9 450.9 486.1 449.5 486.2 450.9 486.4 446.5 486.5 449.8 486.7 448.0 486.8 448.8 487.0 450.5 487.1 451.0 487.1 448.4 487.3 443.7 487.4 439.0 487.6 434.7 487.6 430.6 487.7 434.9 487.9 432.2 488.0 429.5 488.2 428.2 488.3 430.7 488.5 429.7 488.6 425.1 488.8 425.5 488.9 426.0 489.1 420.8 489.2 420.7 489.4 423.0 489.5 418.5 489.7 417.9 489.8 415.2 490.0 415.3 490.1 416.1 490.3 413.9 490.4 412.7 490.4 413.0 490.6 414.7 490.7 414.5 490.9 413.9 491.0 415.5 491.2 416.4 491.3 416.4 491.5 413.9 491.6 417.6 491.8 417.2 491.9 418.8 492.1 417.7 492.2 419.4 492.2 418.6 492.4 416.6 492.5 417.3 492.7 413.6 492.8 413.5 493.0 411.1 493.1 411.8 493.3 410.3 493.4 408.7 493.6 406.2 493.7 403.0 493.9 401.6 493.9 402.3 494.0 403.5 494.2 406.4 494.3 408.1 494.5 407.4 494.6 410.0 494.8 411.8 494.9 414.1 495.1 417.2 495.2 420.7 495.3 422.6 495.4 419.2 495.5 420.9 495.7 425.4 495.8 425.3 496.0 425.1 496.1 422.9 496.3 424.8 496.4 427.8 496.6 427.5 496.7 432.1 496.9 430.5 497.0 431.7 497.2 431.6 497.3 432.7 497.4 433.1 497.5 433.1 497.6 433.1 497.8 433.8 497.9 433.6 498.1 434.8 498.2 430.7 498.4 433.2 498.5 433.1 498.7 433.6 498.8 432.7 498.8 433.2 499.0 433.0 499.1 434.8 499.3 435.5 499.4 434.4 499.6 435.3 499.7 436.6 499.9 438.3 500.0 435.9 500.2 440.0 500.3 438.5 500.5 442.4 500.6 442.8 500.8 440.2 500.8 440.0 500.9 444.5 501.1 444.0 501.2 445.0 501.4 444.4 501.5 446.0 501.7 448.8 501.8 449.6 501.9 448.0 502.0 452.0 502.1 452.9 502.3 453.2 502.4 459.0 502.6 459.5 502.7 463.6 502.9 463.8 503.0 467.8 503.1 465.1 503.2 470.7 503.3 470.9 503.5 476.3 503.6 478.3 503.8 481.6 503.8 482.0 503.9 481.8 504.1 482.7 504.2 479.6 504.4 483.9 504.5 483.8 504.7 478.9 504.8 479.5 505.0 479.7 505.1 480.6 505.3 480.8 505.4 477.7 505.6 481.3 505.6 479.5 505.7 474.7 505.9 474.7 506.0 469.0 506.2 467.6 506.3 463.1 506.5 459.2 506.5 458.7 506.6 459.1 506.8 459.3 506.9 458.7 507.1 460.9 507.2 464.0 507.4 463.6 507.5 467.2 507.7 466.3 507.8 467.2 507.9 468.0 508.0 466.8 508.1 465.8 508.3 463.8 508.4 460.5 508.6 459.2 508.7 461.8 508.9 458.5 509.0 457.7 509.2 455.7 509.3 455.0 509.3 456.0 509.5 458.2 509.6 460.1 509.8 465.6 509.9 465.6 510.1 467.7 510.2 472.7 510.4 471.7 510.5 476.3 510.7 477.9 510.7 478.5 510.8 477.1 511.0 476.0 511.1 474.3 511.3 473.0 511.4 471.2 511.6 471.6 511.7 470.3 511.9 467.1 512.0 465.6 512.1 463.0 512.2 460.9 512.3 462.3 512.5 459.9 512.6 459.9 512.8 454.3 512.9 458.3 513.1 451.9 513.2 452.7 513.4 452.9 513.5 448.0 513.7 447.9 513.8 446.1 513.9 445.5 514.0 446.8 514.1 450.1 514.3 452.9 514.4 454.4 514.6 459.5 514.7 462.2 514.9 462.2 515.0 464.3 515.2 466.7 515.3 469.2 515.5 472.6 515.6 473.5 515.6 472.9 515.8 472.3 515.9 472.6 516.1 470.6 516.2 471.2 516.4 470.0 516.5 471.8 516.7 470.9 516.8 465.8 516.9 467.5 517.0 468.6 517.1 464.6 517.3 464.7 517.4 461.8 517.6 460.1 517.7 457.0 517.9 455.2 518.0 453.2 518.1 451.7 518.2 452.4 518.3 452.5 518.5 456.2 518.6 454.9 518.8 455.5 518.9 455.7 519.1 455.0 519.2 455.1 519.4 457.9 519.5 457.1 519.7 458.7 519.7 458.2 519.8 457.4 520.0 456.0 520.1 455.0 520.3 454.1 520.4 455.5 520.6 454.5 520.7 448.8 520.9 450.1 521.0 449.7 521.2 445.9 521.3 445.3 521.5 444.5 521.6 441.4 521.8 444.1 521.8 442.7 521.9 440.9 522.1 439.0 522.2 437.1 522.4 437.2 522.5 432.6 522.7 431.2 522.8 427.5 523.0 425.9 523.1 424.3 523.1 425.1 523.3 426.2 523.4 427.5 523.6 430.9 523.7 433.1 523.9 434.2 524.0 434.0 524.2 437.3 524.3 435.7 524.4 441.4 524.5 439.8 524.6 440.7 524.8 442.7 524.9 440.5 525.1 443.3 525.2 441.3 525.4 443.4 525.5 442.5 525.7 443.6 525.8 444.6 525.8 443.6 526.0 442.2 526.1 440.7 526.3 440.0 526.4 440.7 526.6 435.6 526.7 432.3 526.9 432.4 527.0 429.3 527.2 429.6 527.2 430.1 527.3 427.2 527.5 425.9 527.6 422.5 527.8 423.8 527.9 420.4 528.1 421.7 528.2 419.8 528.4 414.8 528.5 413.8 528.6 413.5 528.7 414.1 528.8 408.5 529.0 409.7 529.1 410.9 529.3 406.6 529.4 405.7 529.6 403.8 529.7 400.3 529.9 402.4 530.0 400.0 530.0 399.6 530.2 399.0 530.3 397.6 530.5 392.0 530.6 394.1 530.8 390.8 530.9 390.6 531.1 387.6 531.2 385.8 531.4 387.4 531.4 385.6 531.5 384.5 531.7 383.7 531.8 383.6 532.0 382.7 532.1 379.2 532.3 379.7 532.4 380.2 532.6 380.2 532.7 379.6 532.8 378.2 532.9 379.9 533.0 379.9 533.2 381.2 533.3 380.4 533.5 380.9 533.6 385.1 533.8 383.0 533.9 383.9 534.1 386.7 534.2 388.1 534.4 383.7 534.5 386.6 534.7 387.5 534.8 389.0 534.9 389.1 535.0 387.8 535.1 387.4 535.3 387.6 535.4 387.6 535.6 384.4 535.7 385.6 535.9 382.2 536.0 379.8 536.2 379.6 536.2 381.9 536.3 381.9 536.5 375.6 536.6 373.5 536.8 374.2 536.9 369.3 537.1 371.0 537.2 369.4 537.4 364.2 537.5 364.0 537.6 361.9 537.7 363.0 537.8 363.5 538.0 364.3 538.1 365.9 538.3 368.4 538.4 368.2 538.6 369.1 538.7 367.7 538.9 372.0 539.0 372.4 539.2 375.9 539.3 374.5 539.5 375.4 539.6 376.2 539.7 377.7 539.8 376.8 539.9 375.2 540.1 376.3 540.2 375.9 540.4 371.5 540.5 369.3 540.7 371.5 540.8 367.7 541.0 368.0 541.1 366.1 541.1 366.8 541.3 366.6 541.4 368.3 541.6 371.1 541.7 371.2 541.9 370.5 542.0 374.9 542.2 374.7 542.3 374.1 542.5 374.4 542.6 376.0 542.8 379.4 542.9 377.6 543.1 379.3 543.2 379.7 543.2 380.5 543.4 378.4 543.5 378.2 543.7 376.9 543.8 373.6 544.0 374.5 544.1 373.4 544.3 369.2 544.4 369.4 544.6 368.4 544.6 367.4 544.7 369.7 544.9 370.1 545.0 374.1 545.2 374.4 545.3 378.7 545.5 379.2 545.6 379.8 545.8 383.8 545.9 384.9 546.0 385.1 546.1 384.7 546.2 382.4 546.4 382.3 546.5 380.2 546.7 378.2 546.8 378.5 547.0 373.6 547.1 376.0 547.3 369.8 547.4 374.4 547.4 370.3 547.6 364.7 547.7 359.1 547.9 356.5 548.0 350.5 548.1 349.4 548.2 351.3 548.3 348.6 548.5 348.7 548.6 349.7 548.8 350.6 548.9 348.3 549.1 348.6 549.2 348.2 549.4 349.2 549.5 350.2 549.7 345.9 549.8 347.1 550.0 347.1 550.1 348.0 550.1 349.4 550.3 346.1 550.4 345.6 550.6 346.3 550.7 341.3 550.9 341.2 551.0 340.9 551.2 340.7 551.3 340.2 551.5 338.0 551.5 341.1 551.6 337.1 551.8 337.5 551.9 339.3 552.1 338.4 552.2 336.6 552.4 336.8 552.5 337.1 552.7 335.3 552.8 336.0 553.0 332.8 553.1 334.1 553.3 330.7 553.4 331.7 553.6 331.4 553.7 332.8 553.9 331.4 553.9 331.8 554.0 331.8 554.2 332.9 554.3 333.5 554.5 333.2 554.6 336.9 554.8 333.3 554.9 338.0 555.1 340.2 555.2 337.0 555.4 339.2 555.5 337.2 555.7 340.6 555.8 339.6 556.0 342.3 556.0 341.7 556.1 363.4 556.1 363.4 556.3 361.6 556.4 360.6 556.6 360.7 556.7 357.1 556.9 354.1 557.0 353.1 557.2 353.1 557.3 348.5 557.5 350.7 557.6 348.8 557.8 343.6 557.9 346.9 558.1 340.6 558.1 343.0 558.2 344.9 558.4 339.5 558.5 339.0 558.7 339.3 558.8 338.9 559.0 340.0 559.1 338.8 559.3 338.3 559.4 337.8 559.6 337.8 559.7 336.1 559.9 337.6 560.0 336.5 560.2 334.2 560.3 338.1 560.5 333.3 560.6 334.9 560.8 333.5 560.8 333.8 560.9 334.5 561.1 336.0 561.2 338.3 561.4 336.0 561.5 341.2 561.7 340.3 561.8 339.2 562.0 339.3 562.1 345.4 562.2 346.1 562.3 343.7 562.4 346.1 562.6 348.1 562.7 347.0 562.9 347.1 563.0 348.7 563.2 351.2 563.3 350.8 563.5 349.7 563.6 354.1 563.8 350.9 563.9 353.5 564.1 357.9 564.2 357.2 564.3 357.8 564.4 357.9 564.5 360.4 564.7 359.5 564.8 357.6 565.0 361.8 565.1 359.4 565.3 360.3 565.4 366.6 565.6 366.8 565.7 365.0 565.9 366.6 566.0 367.7 566.2 369.2 566.3 369.0 566.4 369.3 566.5 366.3 566.6 361.0 566.8 355.6 566.9 348.9 567.1 345.2 567.1 341.7 567.2 341.7 567.4 338.8 567.5 336.4 567.7 338.5 567.8 334.0 568.0 331.0 568.1 331.1 568.3 327.4 568.4 328.4 568.5 328.3 568.6 328.3 568.7 324.2 568.9 325.3 569.0 327.7 569.2 324.3 569.3 326.4 569.5 325.8 569.6 322.1 569.8 323.4 569.9 322.9 569.9 323.3 570.1 324.8 570.2 325.1 570.4 325.5 570.5 327.3 570.7 326.4 570.8 328.7 571.0 325.8 571.1 332.0 571.3 329.3 571.4 332.0 571.6 332.4 571.7 332.5 571.7 333.3 571.9 335.4 572.0 334.5 572.2 338.6 572.3 343.7 572.5 342.0 572.6 344.1 572.8 350.6 572.9 351.8 573.1 353.6 573.2 354.3 573.3 356.0 573.4 356.1 573.5 355.6 573.7 354.7 573.8 351.8 574.0 352.5 574.1 350.7 574.3 355.4 574.4 351.6 574.6 351.5 574.7 351.8 574.9 350.8 575.0 351.2 575.2 348.7 575.3 346.7 575.4 351.6 575.5 347.0 575.6 345.3 575.8 342.6 575.9 340.9 576.1 339.8 576.2 339.0 576.4 333.8 576.5 334.0 576.7 330.2 576.8 331.6 576.8 327.3 577.0 329.2 577.1 329.8 577.3 325.8 577.4 327.8 577.6 327.5 577.7 325.4 577.9 326.0 578.0 326.4 578.2 325.5 578.2 325.1 578.3 325.6 578.5 326.7 578.6 328.6 578.8 328.6 578.9 329.0 579.1 330.9 579.2 326.1 579.4 326.8 579.5 327.0 579.7 331.7 579.8 328.0 580.0 331.2 580.1 333.0 580.3 329.8 580.3 331.1 580.4 332.3 580.6 334.5 580.7 331.1 580.9 334.8 581.0 335.9 581.2 335.5 581.3 336.0 581.5 338.4 581.6 337.1 581.8 337.2 581.9 337.1 582.1 339.3 582.2 338.2 582.4 340.3 582.4 339.4 582.5 342.6 582.7 340.6 582.8 343.5 583.0 345.3 583.1 346.7 583.3 349.3 583.4 349.4 583.6 351.6 583.7 354.1 583.8 353.1 583.9 352.8 584.0 356.1 584.2 362.4 584.3 365.2 584.4 368.5 584.5 368.0 584.6 367.5 584.8 366.6 584.9 362.0 585.1 362.9 585.2 360.6 585.4 357.4 585.5 359.4 585.7 356.6 585.8 356.2 586.0 356.8 586.1 354.5 586.3 352.2 586.4 349.7 586.5 348.3 586.6 349.5 586.7 348.7 586.9 348.9 587.0 348.3 587.2 349.1 587.3 351.6 587.5 348.4 587.6 348.4 587.8 349.2 587.9 349.4 587.9 346.9 588.1 347.7 588.2 350.9 588.4 353.1 588.5 353.6 588.7 354.7 588.8 356.3 589.0 358.8 589.1 360.7 589.3 359.7 589.3 361.8 589.4 364.4 589.6 364.9 589.7 364.1 589.9 367.1 590.0 369.0 590.2 371.6 590.3 369.0 590.5 374.1 590.6 373.5 590.8 375.9 590.9 378.1 591.1 376.7 591.1 377.2 591.2 379.8 591.4 383.1 591.5 382.8 591.7 383.2 591.8 386.3 592.0 390.0 592.1 393.2 592.3 392.2 592.4 394.6 592.6 396.7 592.7 398.7 592.8 398.9 592.9 397.6 593.0 395.4 593.2 392.8 593.3 390.2 593.5 385.9 593.6 384.1 593.8 381.3 593.9 381.7 594.1 379.8 594.2 376.3 594.2 377.7 594.4 372.5 594.5 370.5 594.7 366.8 594.8 367.4 595.0 364.2 595.1 363.1 595.3 361.8 595.4 358.5 595.6 355.3 595.6 357.1 595.7 356.8 595.9 356.8 596.0 357.7 596.2 356.0 596.3 355.7 596.5 358.7 596.6 357.6 596.8 355.4 596.9 353.8 597.1 354.4 597.2 355.6 597.4 356.2 597.5 357.3 597.6 354.0 597.7 354.3 597.8 352.0 598.0 351.2 598.1 348.9 598.3 346.3 598.4 348.3 598.6 345.3 598.7 344.9 598.9 341.8 599.0 340.7 599.0 340.9 599.2 339.9 599.3 339.6 599.5 342.3 599.6 341.5 599.8 338.8 599.9 340.5 600.1 340.2 600.2 341.3 600.4 345.0 600.5 341.6 600.7 345.5 600.8 342.5 601.0 341.9 601.1 346.0 601.1 345.1 601.3 347.3 601.4 348.5 601.6 348.8 601.7 350.1 601.8 349.5 601.9 349.1 602.0 348.2 602.2 346.5 602.3 345.9 602.5 342.2 602.6 343.2 602.8 342.4 602.9 339.0 603.1 337.8 603.2 335.9 603.2 336.1 603.4 331.9 603.5 327.7 603.7 325.9 603.8 322.7 604.0 317.0 604.1 316.9 604.2 315.7 604.3 314.5 604.4 311.1 604.6 310.6 604.7 308.3 604.9 305.2 605.0 303.9 605.0 304.4 605.2 306.4 605.3 306.8 605.5 308.1 605.6 311.6 605.8 311.7 605.9 318.0 606.1 315.8 606.2 317.7 606.4 322.0 606.4 320.4 606.5 318.8 606.7 321.7 606.8 320.7 607.0 322.0 607.1 320.6 607.3 322.2 607.4 323.9 607.6 324.4 607.7 323.1 607.9 324.2 608.0 324.4 608.2 326.5 608.3 326.5 608.5 325.1 608.6 328.7 608.8 326.8 608.8 328.8 608.9 327.6 609.1 330.7 609.2 331.1 609.4 332.4 609.5 334.2 609.7 335.2 609.8 335.7 610.0 336.8 610.1 335.4 610.1 337.6 610.3 335.9 610.4 336.8 610.6 339.8 610.7 340.8 610.9 344.6 611.0 344.1 611.2 345.7 611.3 344.3 611.5 346.4 611.6 348.5 611.8 348.4 611.9 349.0 612.1 349.5 612.2 348.7 612.2 348.7 612.4 349.1 612.5 353.5 612.7 353.7 612.8 354.3 613.0 357.2 613.1 357.7 613.3 360.0 613.3 360.8 613.4 358.7 613.6 355.4 613.7 351.4 613.9 353.6 614.0 349.0 614.2 343.7 614.3 344.6 614.5 339.3 614.6 337.9 614.7 336.3 614.8 337.3 614.9 339.9 615.1 345.8 615.2 346.4 615.4 350.9 615.5 353.6 615.7 354.0 615.7 356.3 615.8 360.0 616.0 364.1 616.1 364.8 616.3 368.9 616.4 370.6 616.6 375.1 616.7 374.3 616.8 379.6 616.9 379.5 617.0 384.1 617.2 386.9 617.3 392.3 617.5 399.6 617.5 402.2 617.6 398.6 617.8 399.0 617.9 401.4 618.1 401.4 618.2 400.4 618.4 401.5 618.5 401.5 618.7 403.6 618.8 404.3 619.0 406.1 619.1 405.3 619.3 405.3 619.4 404.8 619.6 406.5 619.6 403.3 619.7 408.3 619.9 406.6 620.0 409.1 620.2 406.0 620.3 409.7 620.5 409.2 620.6 408.9 620.8 409.3 620.9 409.9 621.0 411.4 621.1 409.7 621.2 407.1 621.4 405.1 621.5 401.5 621.7 397.8 621.8 395.7 621.9 395.6 622.0 395.8 622.1 391.1 622.3 391.5 622.4 388.0 622.6 384.4 622.7 379.3 622.9 378.0 623.0 375.1 623.1 373.8 623.2 374.6 623.3 378.0 623.5 378.7 623.6 378.3 623.8 382.9 623.9 383.3 624.1 383.3 624.2 384.2 624.4 386.3 624.4 388.0 624.5 386.3 624.7 387.0 624.8 389.6 625.0 387.1 625.1 391.1 625.3 391.5 625.4 393.4 625.6 394.4 625.7 395.9 625.8 396.7 625.9 396.5 626.0 395.4 626.2 395.2 626.3 392.9 626.5 394.5 626.6 389.2 626.8 391.4 626.9 390.9 627.1 387.1 627.2 387.6 627.2 390.6 627.4 386.0 627.5 382.6 627.7 379.3 627.8 380.5 628.0 378.0 628.1 376.8 628.3 376.4 628.4 371.5 628.6 369.7 628.6 367.7 628.7 366.7 628.9 364.0 629.0 362.6 629.2 359.5 629.3 354.5 629.5 352.2 629.6 352.6 629.8 345.9 629.9 346.0 630.0 346.1 630.1 343.4 630.2 340.4 630.4 340.1 630.5 336.1 630.7 333.2 630.8 330.7 631.0 330.7 631.1 327.7 631.3 326.9 631.4 321.4 631.6 319.2 631.7 317.6 631.7 318.0 631.9 314.3 632.0 314.9 632.2 311.8 632.3 307.5 632.5 304.3 632.6 302.2 632.8 305.3 632.9 300.7 633.1 299.1 633.1 297.9 633.2 297.2 633.4 291.7 633.5 289.6 633.7 287.5 633.8 289.3 633.8 290.3 634.0 289.7 634.1 288.5 634.3 286.3 634.4 289.6 634.6 287.6 634.7 287.8 634.9 287.5 635.0 286.7 635.2 286.0 635.3 286.1 635.5 284.7 635.6 287.1 635.8 286.2 635.8 288.1 635.9 283.5 636.1 287.8 636.2 285.4 636.4 284.8 636.5 283.4 636.7 283.0 636.8 281.5 637.0 285.3 637.1 283.0 637.3 284.2 637.4 284.1 637.6 281.7 637.7 281.8 637.9 281.5 637.9 282.0 638.0 282.1 638.2 282.8 638.3 284.3 638.5 283.9 638.6 287.4 638.8 283.8 638.9 288.2 639.1 288.8 639.2 286.3 639.3 288.4 639.4 290.7 639.5 296.6 639.5 295.4 639.7 295.7 639.8 293.9 640.0 293.9 640.1 296.4 640.3 293.2 640.4 291.4 640.6 291.7 640.7 291.4 640.7 292.5 640.9 291.6 641.0 290.4 641.2 294.1 641.3 292.8 641.5 293.0 641.6 291.2 641.8 295.1 641.9 292.6 642.1 290.1 642.2 291.0 642.4 291.6 642.5 292.9 642.7 294.6 642.8 292.1 642.8 295.0 643.0 307.7 643.1 310.1 643.1 309.2 643.3 310.5 643.4 308.7 643.6 312.1 643.7 313.1 643.9 310.8 644.0 313.9 644.2 312.0 644.3 313.3 644.5 311.9 644.6 312.1 644.8 311.3 644.9 314.5 645.1 314.0 645.2 314.4 645.4 313.2 645.5 313.5 645.6 314.5 645.7 318.7 645.8 321.3 646.0 323.2 646.1 327.0 646.2 330.3 646.3 329.4 646.4 329.3 646.6 328.0 646.7 328.7 646.9 324.8 647.0 326.8 647.2 321.9 647.3 323.4 647.5 321.5 647.6 318.5 647.8 318.0 647.9 321.0 648.1 318.9 648.2 318.3 648.3 317.0 648.4 316.4 648.5 318.2 648.7 318.3 648.8 319.0 649.0 320.0 649.1 320.4 649.3 320.9 649.4 325.6 649.6 325.1 649.7 324.2 649.9 325.5 650.0 328.7 650.2 328.6 650.3 329.2 650.4 327.4 650.5 329.0 650.6 328.7 650.8 328.9 650.9 334.0 651.1 332.8 651.2 333.6 651.4 333.5 651.5 337.4 651.7 339.7 651.8 338.9 652.0 340.3 652.1 337.5 652.3 340.9 652.4 341.8 652.5 344.5 652.6 342.4 652.7 341.7 652.9 344.1 653.0 344.3 653.2 348.4 653.3 348.0 653.5 348.3 653.6 349.0 653.8 351.0 653.9 349.6 654.1 349.8 654.2 350.3 654.4 354.0 654.5 354.3 654.6 354.8 654.7 353.6 654.8 353.5 655.0 349.5 655.1 351.5 655.3 346.6 655.4 345.9 655.6 343.2 655.7 344.1 655.9 342.0 656.0 341.7 656.2 339.3 656.3 337.7 656.4 338.1 656.5 338.4 656.6 338.3 656.8 337.7 656.9 338.4 657.1 335.1 657.2 337.2 657.4 339.7 657.5 338.5 657.7 336.3 657.8 339.2 658.0 337.5 658.1 339.0 658.1 336.4 658.3 340.2 658.4 343.9 658.6 346.2 658.7 349.0 658.9 350.3 659.0 352.3 659.2 355.8 659.3 358.4 659.5 358.3 659.6 361.8 659.7 363.4 659.8 362.6 659.9 360.4 660.1 355.4 660.2 355.1 660.4 348.7 660.5 347.4 660.7 345.0 660.8 342.6 661.0 339.3 661.1 336.9 661.1 337.0 661.3 335.3 661.4 331.2 661.6 329.6 661.7 329.4 661.9 329.1 662.0 328.1 662.2 327.2 662.2 324.0 662.3 321.5 662.5 321.5 662.6 320.8 662.8 318.2 662.9 314.9 663.1 314.7 663.2 313.2 663.3 311.4 663.4 311.8 663.5 314.6 663.7 313.5 663.8 317.0 664.0 317.7 664.1 322.0 664.3 322.1 664.4 321.0 664.6 325.7 664.7 324.8 664.9 327.6 665.0 328.9 665.0 327.9 665.2 327.8 665.3 326.9 665.5 324.7 665.6 327.3 665.8 325.7 665.9 325.8 666.1 325.5 666.2 325.5 666.4 324.3 666.5 321.8 666.7 321.5 666.8 321.1 667.0 320.1 667.1 319.6 667.1 320.7 667.3 320.9 667.4 323.1 667.6 320.7 667.7 322.6 667.9 322.7 668.0 323.4 668.2 324.3 668.3 325.3 668.5 325.5 668.6 329.6 668.8 328.7 668.9 327.0 669.1 328.1 669.2 330.7 669.2 330.6 669.4 329.2 669.5 332.4 669.7 329.1 669.8 331.3 670.0 335.4 670.1 330.5 670.3 333.5 670.4 336.1 670.6 334.8 670.7 334.3 670.9 334.8 671.0 334.1 671.2 335.2 671.2 337.9 671.3 337.2 671.5 339.1 671.6 339.8 671.8 341.4 671.9 339.1 672.1 342.2 672.2 343.0 672.4 344.0 672.5 343.9 672.6 343.4 672.7 347.6 672.8 349.7 673.0 352.8 673.1 353.1 673.3 356.4 673.4 356.5 673.6 356.7 673.7 359.6 673.9 360.3 674.0 362.8 674.0 362.7 674.2 361.7 674.3 362.8 674.5 362.7 674.6 361.2 674.8 361.2 674.9 361.9 675.1 358.4 675.2 357.1 675.4 356.9 675.4 357.6 675.5 358.5 675.7 358.8 675.8 363.5 676.0 363.7 676.1 367.7 676.3 368.5 676.4 367.7 676.6 370.0 676.7 371.2 676.8 372.1 676.9 371.2 677.0 369.2 677.2 368.0 677.3 362.2 677.5 362.4 677.6 358.7 677.8 355.8 677.9 354.6 678.1 350.8 678.2 349.6 678.2 349.0 678.4 350.0 678.5 352.8 678.7 351.0 678.8 352.8 679.0 355.9 679.1 357.6 679.3 358.5 679.4 357.6 679.6 359.5 679.7 364.1 679.9 365.3 680.0 365.1 680.2 367.5 680.3 368.5 680.3 368.3 680.5 365.6 680.6 366.0 680.8 362.1 680.9 363.3 681.1 360.7 681.2 355.7 681.4 355.1 681.5 354.4 681.7 353.8 681.8 348.0 681.9 348.1 682.0 349.6 682.1 347.1 682.3 342.3 682.4 340.3 682.6 340.2 682.7 336.1 682.9 335.1 683.0 333.2 683.1 332.2 683.2 332.0 683.3 334.6 683.5 335.8 683.6 337.3 683.8 337.1 683.9 333.5 684.1 339.4 684.2 338.3 684.4 340.0 684.5 338.9 684.7 339.4 684.8 340.3 685.0 342.1 685.1 342.0 685.1 341.9 685.3 337.0 685.4 333.4 685.6 328.1 685.7 323.6 685.8 321.5 685.9 320.7 686.0 318.5 686.2 317.8 686.3 316.5 686.5 316.5 686.6 315.4 686.8 313.4 686.9 310.7 687.1 312.5 687.2 311.6 687.2 308.2 687.4 309.1 687.5 306.3 687.7 302.6 687.8 303.7 688.0 303.8 688.1 299.4 688.3 298.2 688.4 298.1 688.6 295.3 688.6 295.0 688.7 297.2 688.9 300.6 689.0 303.5 689.2 304.4 689.3 307.4 689.5 310.7 689.6 312.6 689.8 315.1 689.9 317.8 690.0 320.1 690.1 319.0 690.2 319.2 690.4 317.6 690.5 314.3 690.7 314.4 690.8 313.8 691.0 312.7 691.1 311.5 691.3 310.3 691.4 308.1 691.6 308.3 691.7 307.9 691.9 304.4 692.0 303.4 692.1 303.4 692.2 304.8 692.3 306.6 692.5 309.4 692.6 309.5 692.8 311.0 692.9 314.3 693.1 315.9 693.2 318.1 693.4 319.3 693.5 318.9 693.5 319.9 693.7 318.2 693.8 316.0 694.0 317.8 694.1 316.0 694.3 314.9 694.4 312.5 694.6 312.2 694.7 312.7 694.9 309.7 695.0 311.3 695.2 310.8 695.3 309.7 695.5 309.2 695.6 308.6 695.6 308.6 695.8 309.8 695.9 312.1 696.1 314.9 696.2 314.9 696.4 315.1 696.5 317.6 696.7 315.9 696.8 318.3 696.9 320.5 697.0 321.1 697.1 321.3 697.3 322.0 697.4 321.0 697.6 322.7 697.7 324.6 697.9 322.1 698.0 323.4 698.2 325.4 698.3 329.1 698.5 328.4 698.6 330.5 698.8 330.7 698.9 328.3 699.0 329.3 699.1 327.6 699.2 332.2 699.4 332.1 699.5 332.4 699.7 333.1 699.8 333.4 700.0 333.6 700.1 334.3 700.3 336.5 700.4 333.7 700.6 333.9 700.7 336.2 700.9 338.8 701.0 337.8 701.1 337.4 701.2 340.0 701.3 340.7 701.5 339.8 701.6 342.7 701.8 343.7 701.9 348.0 702.1 349.5 702.2 353.0 702.4 356.9 702.5 354.8 702.5 355.9 702.7 355.4 702.8 353.4 703.0 355.0 703.1 355.2 703.3 357.1 703.4 355.3 703.6 354.7 703.7 358.1 703.9 357.1 704.0 355.8 704.2 356.5 704.3 357.4 704.5 358.2 704.6 358.6 704.6 356.1 704.8 353.2 704.9 348.2 705.1 344.3 705.2 341.0 705.3 336.2 705.4 338.7 705.5 334.1 705.7 334.6 705.8 333.1 706.0 336.3 706.1 335.4 706.3 333.1 706.4 331.8 706.6 329.1 706.7 332.2 706.7 331.5 706.9 329.8 707.0 327.1 707.2 325.8 707.3 325.4 707.5 326.9 707.6 322.1 707.8 323.0 707.9 324.6 708.1 322.5 708.2 322.8 708.4 319.8 708.5 318.7 708.7 318.1 708.8 317.3 708.8 317.6 709.0 317.9 709.1 317.4 709.3 322.6 709.4 320.3 709.6 320.7 709.7 324.3 709.9 322.2 710.0 322.4 710.2 324.6 710.3 326.3 710.5 327.7 710.6 328.6 710.8 329.6 710.8 329.4 710.9 328.7 711.1 326.8 711.2 324.5 711.4 324.5 711.5 322.8 711.7 323.2 711.8 320.0 712.0 316.2 712.1 316.8 712.3 313.8 712.4 315.2 712.6 308.2 712.7 308.3 712.9 306.7 712.9 307.5 713.0 307.0 713.2 304.5 713.3 304.2 713.5 307.2 713.6 309.3 713.8 309.2 713.9 306.0 714.1 307.3 714.2 305.0 714.4 303.9 714.5 308.3 714.7 307.3 714.8 305.5 715.0 305.3 715.0 307.5 715.1 304.4 715.3 300.8 715.4 299.3 715.6 296.3 715.7 293.2 715.9 290.6 716.0 289.1 716.1 286.9 716.2 287.2 716.3 290.6 716.5 292.7 716.6 293.8 716.8 294.5 716.9 296.6 717.1 295.6 717.2 299.6 717.4 301.7 717.5 302.8 717.7 304.9 717.8 305.5 717.8 305.7 718.0 303.7 718.1 303.8 718.3 301.9 718.4 299.8 718.6 300.5 718.7 300.3 718.9 298.3 719.0 300.0 719.2 296.4 719.3 298.2 719.5 296.7 719.6 294.3 719.8 294.6 719.9 292.7 719.9 293.9 720.1 294.5 720.2 296.2 720.4 293.5 720.5 294.9 720.7 296.3 720.8 298.5 721.0 299.4 721.1 300.1 721.3 300.5 721.4 300.5 721.6 300.8 721.7 303.0 721.9 304.3 721.9 305.0 722.0 303.1 722.2 302.1 722.3 297.5 722.5 298.4 722.6 293.2 722.8 293.3 722.9 289.2 723.1 287.1 723.2 285.7 723.3 287.4 723.4 283.8 723.5 285.7 723.7 284.7 723.8 284.7 724.0 284.5 724.1 284.8 724.3 281.5 724.4 283.3 724.6 283.5 724.7 281.7 724.9 283.0 725.0 280.9 725.2 282.5 725.3 281.3 725.4 281.4 725.5 282.1 725.6 282.8 725.8 281.7 725.9 281.7 726.1 284.7 726.2 280.7 726.4 286.0 726.5 286.3 726.7 282.7 726.8 286.8 727.0 285.8 727.1 286.3 727.3 283.1 727.4 285.4 727.5 286.1 727.6 287.9 727.7 292.5 727.9 297.3 728.0 301.1 728.2 306.5 728.2 306.9 728.3 306.2 728.5 304.5 728.6 303.8 728.8 303.1 728.9 304.1 729.1 298.8 729.2 301.7 729.4 297.4 729.5 295.1 729.7 293.0 729.8 295.6 730.0 290.5 730.1 293.3 730.3 291.2 730.4 288.5 730.6 287.3 730.7 287.4 730.9 285.9 731.0 285.4 731.0 286.3 731.2 289.7 731.3 294.4 731.5 295.5 731.6 302.7 731.8 305.1 731.9 307.1 732.1 311.5 732.2 316.1 732.4 318.9 732.4 320.3 732.5 318.4 732.7 315.0 732.8 314.2 733.0 315.3 733.1 311.5 733.3 307.4 733.4 304.8 733.6 303.9 733.7 304.5 733.9 302.3 733.9 301.3 734.0 303.2 734.2 303.5 734.3 303.9 734.5 305.0 734.6 306.1 734.8 310.6 734.9 307.2 735.1 309.2 735.2 313.1 735.4 314.4 735.5 311.4 735.7 315.5 735.8 315.4 736.0 315.1 736.0 316.6 736.1 312.1 736.3 310.5 736.4 305.9 736.6 303.0 736.7 302.4 736.7 302.6 736.9 303.4 737.0 304.8 737.2 305.5 737.3 306.3 737.5 306.1 737.6 309.9 737.8 310.1 737.9 310.7 738.1 311.3 738.2 312.9 738.4 312.5 738.5 315.3 738.7 316.2 738.8 317.9 738.8 316.5 739.0 316.1 739.1 316.0 739.3 316.8 739.4 315.8 739.6 314.5 739.7 316.7 739.9 313.5 740.0 313.5 740.2 315.2 740.3 310.5 740.5 313.1 740.6 311.7 740.8 308.3 740.8 309.2 740.9 311.2 741.1 306.6 741.2 307.9 741.4 309.0 741.5 306.2 741.7 306.3 741.8 303.9 742.0 303.2 742.1 302.4 742.3 302.0 742.4 302.9 742.6 301.1 742.7 302.9 742.9 300.3 742.9 299.6 743.0 301.5 743.2 298.0 743.3 296.2 743.5 297.2 743.6 294.5 743.8 296.6 743.9 297.4 744.1 295.6 744.2 293.3 744.4 293.1 744.5 293.6 744.7 294.1 744.8 290.9 745.0 290.2 745.0 292.7 745.1 290.8 745.3 290.5 745.4 290.2 745.6 287.6 745.7 288.2 745.9 289.7 746.0 287.2 746.2 286.6 746.3 286.9 746.5 286.6 746.6 288.1 746.8 283.6 746.9 284.7 747.1 286.6 747.1 284.0 747.2 284.4 747.4 281.3 747.5 285.2 747.7 285.0 747.8 284.8 748.0 283.0 748.1 283.8 748.3 283.0 748.4 284.4 748.6 282.9 748.7 284.1 748.9 280.5 749.0 282.1 749.2 279.8 749.2 282.1 749.3 279.1 749.5 273.0 749.6 270.1 749.8 263.8 749.9 261.5 749.9 261.6 750.1 262.7 750.2 263.5 750.4 262.6 750.5 264.4 750.7 269.8 750.8 267.6 751.0 270.6 751.1 267.9 751.3 270.9 751.4 273.0 751.6 272.9 751.7 273.7 751.9 275.0 751.9 275.6 752.0 275.1 752.2 274.0 752.3 269.7 752.5 267.0 752.6 267.8 752.8 266.5 752.9 266.0 753.1 265.0 753.2 260.4 753.3 263.0 753.4 260.5 753.5 256.4 753.7 259.9 753.8 257.8 754.0 256.9 754.1 252.9 754.3 254.1 754.4 254.0 754.6 252.6 754.7 253.1 754.9 253.2 755.0 252.2 755.2 250.3 755.3 248.3 755.4 248.6 755.5 248.1 755.6 249.2 755.8 248.9 755.9 247.4 756.1 247.7 756.2 251.3 756.4 250.5 756.5 252.2 756.7 254.3 756.8 250.8 757.0 251.3 757.1 254.9 757.3 255.5 757.4 255.7 757.5 255.8 757.6 254.2 757.7 252.5 757.9 249.2 758.0 248.5 758.2 247.0 758.2 244.1 758.3 245.2 758.5 244.1 758.6 244.4 758.8 245.2 758.9 243.0 759.1 242.5 759.2 242.0 759.4 239.3 759.5 239.4 759.7 239.1 759.8 238.9 760.0 238.1 760.0 238.2 760.1 238.6 760.3 241.4 760.4 241.4 760.6 245.0 760.7 245.5 760.9 252.4 761.0 253.2 761.0 250.8 761.2 255.1 761.3 257.7 761.5 261.2 761.6 261.8 761.8 262.6 761.9 264.2 762.1 266.9 762.2 268.4 762.4 269.8 762.4 269.3 762.5 269.5 762.7 267.1 762.8 266.4 763.0 267.1 763.1 264.6 763.3 265.6 763.4 260.8 763.6 262.9 763.7 258.3 763.9 257.0 764.0 256.7 764.2 257.7 764.2 256.4 764.3 254.8 764.5 258.9 764.6 254.9 764.8 256.1 764.9 256.4 765.1 254.8 765.2 255.9 765.4 256.0 765.5 254.6 765.7 254.9 765.8 253.8 765.8 253.5 766.0 255.3 766.1 255.5 766.3 258.2 766.4 258.8 766.6 259.4 766.7 262.4 766.9 263.6 767.0 261.2 767.2 264.6 767.3 266.7 767.5 268.4 767.6 268.4 767.8 269.6 767.9 271.5 767.9 271.7 768.1 268.2 768.2 265.3 768.4 263.7 768.5 260.3 768.7 259.6 768.8 258.2 768.9 256.3 769.0 258.3 769.1 260.0 769.3 263.8 769.4 266.9 769.6 270.5 769.7 271.0 769.9 275.2 770.0 276.2 770.0 275.2 770.2 281.8 770.3 281.9 770.5 286.1 770.6 290.1 770.7 291.3 770.8 290.0 770.9 289.8 771.1 288.1 771.2 287.8 771.4 284.7 771.5 286.8 771.7 283.0 771.8 285.4 772.0 284.6 772.1 284.6 772.3 285.1 772.4 279.7 772.6 280.0 772.7 279.5 772.8 279.4 772.9 280.9 773.0 281.2 773.2 281.8 773.3 281.8 773.5 283.7 773.6 285.2 773.8 286.8 773.9 285.7 774.1 289.1 774.2 291.3 774.4 292.0 774.5 291.1 774.7 294.1 774.8 295.1 774.9 295.2 775.0 293.4 775.1 291.3 775.3 291.4 775.4 288.2 775.6 286.3 775.7 288.8 775.9 287.1 776.0 285.0 776.2 283.9 776.2 283.0 776.3 282.7 776.5 285.9 776.6 286.9 776.8 289.2 776.9 292.8 777.1 292.6 777.2 296.2 777.4 295.3 777.5 296.3 777.7 297.4 777.8 300.1 778.0 300.1 778.1 303.7 778.3 305.4 778.3 305.8 778.4 304.6 778.6 302.9 778.7 303.9 778.9 300.2 779.0 302.9 779.2 298.2 779.3 298.7 779.5 295.8 779.6 295.5 779.7 294.9 779.8 295.4 779.9 296.7 780.1 297.2 780.2 294.0 780.4 297.0 780.5 297.1 780.7 296.9 780.8 298.9 781.0 299.6 781.1 298.9 781.1 299.6 781.3 297.4 781.4 293.1 781.6 294.3 781.7 292.1 781.9 287.5 782.0 287.2 782.2 282.5 782.3 280.5 782.5 277.7 782.5 276.5 782.6 277.8 782.8 278.4 782.9 278.8 783.1 278.4 783.2 280.0 783.4 280.1 783.5 284.5 783.7 282.8 783.8 284.9 783.9 285.0 784.0 282.8 784.1 280.6 784.3 275.6 784.4 275.3 784.6 269.6 784.7 267.1 784.9 262.9 785.0 261.4 785.0 261.7 785.2 258.1 785.3 257.7 785.5 259.2 785.6 254.3 785.8 256.8 785.9 252.3 786.1 251.1 786.2 249.6 786.4 248.9 786.4 248.4 786.5 250.6 786.7 253.5 786.8 254.6 787.0 255.6 787.1 256.8 787.3 259.4 787.4 259.2 787.4 261.6 787.6 271.5 787.7 274.2 787.9 278.5 788.0 284.5 788.1 286.0 788.2 283.3 788.3 281.4 788.5 277.7 788.6 274.6 788.8 277.6 788.9 275.9 789.1 270.1 789.2 267.7 789.4 267.6 789.4 266.4 789.5 266.2 789.7 267.3 789.8 265.9 790.0 267.0 790.1 268.1 790.3 266.4 790.4 267.9 790.6 266.9 790.7 268.3 790.9 268.0 791.0 265.2 791.2 268.3 791.3 265.9 791.5 267.1 791.5 265.9 791.6 272.3 791.8 273.9 791.9 277.4 792.1 283.8 792.2 286.5 792.2 284.9 792.4 283.3 792.5 287.8 792.7 286.9 792.8 287.5 793.0 290.0 793.1 288.4 793.3 290.0 793.4 292.4 793.6 292.5 793.7 291.2 793.9 295.4 794.0 295.6 794.2 297.1 794.3 294.9 794.3 295.5 794.5 298.1 794.6 298.3 794.8 299.0 794.9 299.8 795.1 300.6 795.2 301.2 795.4 302.4 795.5 305.4 795.7 305.4 795.7 303.7 795.8 306.9 796.0 310.3 796.1 310.7 796.3 306.5 796.4 308.6 796.6 312.1 796.7 311.7 796.9 312.5 797.0 313.0 797.2 314.1 797.3 313.1 797.5 317.6 797.6 314.6 797.8 317.0 797.8 319.8 797.9 320.0 798.1 319.2 798.2 320.2 798.4 320.2 798.5 321.3 798.7 322.8 798.8 326.5 799.0 324.5 799.1 327.2 799.3 327.9 799.4 328.8 799.6 328.9 799.7 330.6 799.9 331.2 799.9 331.1 800.0 329.2 800.2 326.3 800.3 327.7 800.5 326.3 800.6 322.7 800.8 321.7 800.9 321.0 801.1 317.4 801.2 318.7 801.2 318.5 801.4 317.4 801.5 315.8 801.7 309.9 801.8 311.9 802.0 308.6 802.1 309.6 802.3 307.3 802.4 304.9 802.6 302.6 802.6 302.8 802.7 302.4 802.9 302.5 803.0 305.5 803.2 302.8 803.3 308.8 803.5 308.7 803.6 310.1 803.8 310.6 803.9 310.4 804.1 308.4 804.2 310.5 804.4 313.1 804.5 313.1 804.7 314.4 804.7 314.1 804.8 313.0 805.0 312.0 805.1 311.1 805.3 308.5 805.4 305.2 805.6 302.4 805.7 306.2 805.9 299.9 806.0 298.7 806.1 298.0 806.2 299.4 806.3 293.5 806.5 292.5 806.6 288.9 806.8 283.2 806.9 282.3 807.1 276.7 807.2 275.3 807.2 276.8 807.4 272.4 807.5 268.5 807.7 266.5 807.8 264.2 808.0 261.9 808.1 258.0 808.2 256.7 808.3 258.3 808.4 259.1 808.6 260.3 808.7 261.7 808.9 262.2 809.0 262.8 809.2 264.9 809.3 266.9 809.5 267.4 809.6 268.0 809.8 267.3 809.9 270.4 810.1 270.5 810.2 272.0 810.3 272.9 810.4 271.3 810.5 269.8 810.7 267.7 810.8 265.0 811.0 261.2 811.1 259.4 811.3 256.6 811.4 257.4 811.6 252.9 811.7 249.4 811.9 247.1 811.9 247.0 812.0 246.7 812.2 248.9 812.3 250.4 812.5 253.5 812.6 251.7 812.8 255.4 812.9 256.5 813.1 259.0 813.2 261.4 813.4 260.8 813.5 261.8 813.7 265.1 813.8 262.1 813.8 265.4 814.0 264.7 814.1 265.6 814.3 266.2 814.4 267.4 814.6 272.8 814.7 274.1 814.9 274.1 815.0 277.0 815.2 276.5 815.3 277.4 815.5 278.5 815.6 280.1 815.6 279.4 815.8 278.3 815.9 274.8 816.1 273.7 816.2 270.3 816.4 272.8 816.5 270.5 816.7 268.5 816.8 266.0 817.0 264.2 817.1 262.2 817.2 263.5 817.3 259.5 817.4 258.8 817.6 254.3 817.7 250.0 817.9 246.6 817.9 246.0 818.0 248.1 818.2 249.4 818.3 253.8 818.5 257.2 818.6 258.6 818.8 257.4 818.9 259.8 819.1 266.4 819.2 269.8 819.3 268.0 819.4 269.8 819.5 269.1 819.7 269.0 819.8 272.4 820.0 270.4 820.1 273.3 820.3 275.2 820.4 272.9 820.6 276.4 820.7 272.1 820.9 276.5 821.0 275.5 821.2 278.8 821.3 276.8 821.4 275.6 821.5 280.0 821.6 275.3 821.8 279.1 821.9 277.6 822.1 281.8 822.2 279.9 822.4 282.0 822.5 281.1 822.7 279.8 822.8 279.5 823.0 285.5 823.1 283.6 823.3 283.1 823.4 284.3 823.5 285.1 823.6 283.0 823.7 283.8 823.9 280.9 824.0 279.3 824.2 280.8 824.3 277.7 824.5 274.4 824.6 276.4 824.8 274.3 824.9 274.7 824.9 270.7 825.1 269.0 825.2 270.6 825.4 267.5 825.5 264.1 825.7 264.5 825.8 265.2 826.0 261.6 826.1 263.6 826.2 259.4 826.3 259.8 826.4 255.2 826.6 254.6 826.7 253.6 826.9 252.9 827.0 250.2 827.2 249.5 827.3 244.1 827.5 243.8 827.6 241.7 827.6 241.0 827.8 243.0 827.9 244.1 828.1 247.1 828.2 247.6 828.4 250.8 828.5 250.1 828.7 255.6 828.8 255.8 829.0 259.6 829.0 257.3 829.1 257.7 829.3 260.4 829.4 261.0 829.6 261.7 829.7 265.2 829.9 266.7 830.0 267.6 830.2 269.8 830.3 271.2 830.4 272.9 830.5 271.5 830.6 271.6 830.8 268.9 830.9 268.8 831.1 263.5 831.2 264.5 831.4 262.0 831.5 262.3 831.7 260.5 831.8 254.8 831.8 259.3 832.0 253.0 832.1 256.0 832.3 251.8 832.4 248.1 832.6 249.5 832.7 246.6 832.9 243.0 833.0 241.6 833.2 241.9 833.2 238.5 833.3 238.3 833.5 241.3 833.6 236.1 833.8 236.8 833.9 235.8 834.1 235.5 834.2 233.7 834.4 230.3 834.5 230.0 834.6 230.3 834.7 230.0 834.8 232.9 835.0 233.2 835.1 232.0 835.3 236.2 835.4 239.2 835.6 236.5 835.7 239.8 835.9 238.5 836.0 239.8 836.0 241.4 836.2 243.3 836.3 244.2 836.5 245.2 836.6 248.8 836.8 245.4 836.9 245.7 837.1 250.6 837.2 251.2 837.4 249.5 837.4 254.8 837.5 253.2 837.7 254.2 837.8 259.6 838.0 262.2 838.1 266.1 838.3 263.1 838.4 266.4 838.6 269.9 838.7 272.1 838.8 272.7 838.9 271.7 839.0 269.7 839.2 269.6 839.3 270.6 839.5 269.8 839.6 266.4 839.8 267.6 839.9 266.5 840.1 264.0 840.2 263.4 840.4 263.1 840.5 263.8 840.7 261.3 840.8 259.9 840.8 260.2 841.0 261.5 841.1 264.6 841.3 262.7 841.4 264.9 841.6 269.8 841.7 270.8 841.9 271.8 842.0 274.6 842.2 272.7 842.2 276.2 842.3 274.1 842.5 274.7 842.6 278.6 842.8 277.1 842.9 278.7 843.1 281.2 843.2 279.1 843.4 282.8 843.5 285.2 843.7 283.0 843.8 285.8 844.0 286.2 844.1 283.5 844.3 284.2 844.3 286.7 844.4 285.0 844.6 289.2 844.7 290.9 844.9 292.6 845.0 293.9 845.2 296.8 845.3 295.4 845.5 298.2 845.6 298.8 845.7 299.4 845.8 298.5 845.9 298.1 846.1 295.2 846.2 296.2 846.4 295.7 846.5 291.4 846.7 289.7 846.8 288.9 847.0 288.9 847.1 288.4 847.3 288.1 847.4 287.3 847.6 285.3 847.7 283.1 847.8 282.3 847.9 283.3 848.0 286.9 848.2 289.2 848.3 290.2 848.5 292.7 848.6 295.0 848.8 294.7 848.9 299.6 849.1 302.5 849.2 303.2 849.2 301.7 849.4 304.1 849.5 305.3 849.7 307.6 849.8 307.2 850.0 306.8 850.1 306.2 850.3 305.4 850.4 306.9 850.6 306.8 850.6 307.4 850.7 307.7 850.9 307.8 851.0 307.7 851.2 305.9 851.3 307.2 851.5 304.6 851.6 301.9 851.8 304.5 851.9 304.0 852.1 300.7 852.2 302.2 852.4 299.9 852.5 301.5 852.6 304.1 852.7 300.3 852.8 301.4 853.0 297.1 853.1 293.1 853.3 289.3 853.4 291.0 853.6 288.5 853.6 284.1 853.7 284.5 853.9 285.0 854.0 279.8 854.2 279.7 854.3 274.2 854.5 273.3 854.6 274.1 854.7 269.4 854.8 268.5 854.9 267.4 855.1 268.0 855.2 264.7 855.4 266.0 855.5 266.0 855.7 266.1 855.8 262.2 856.0 262.2 856.1 260.6 856.1 260.3 856.3 262.4 856.4 265.4 856.6 267.8 856.7 268.3 856.9 268.5 857.0 271.8 857.2 272.4 857.3 273.9 857.5 275.7 857.5 278.3 857.6 274.6 857.8 277.8 857.9 277.3 858.1 281.9 858.2 283.6 858.4 285.3 858.5 283.8 858.7 285.6 858.8 287.2 858.9 287.5 859.0 287.1 859.1 286.3 859.3 285.6 859.4 284.3 859.6 284.4 859.7 280.3 859.9 281.3 860.0 278.9 860.2 280.2 860.3 278.5 860.3 278.9 860.5 274.2 860.6 263.9 860.8 258.7 860.9 254.6 861.0 254.5 861.1 250.7 861.2 246.2 861.4 241.5 861.5 237.4 861.7 234.1 861.7 234.2 861.8 234.3 862.0 233.9 862.1 232.3 862.3 233.7 862.4 234.8 862.6 233.8 862.7 236.6 862.9 233.9 863.0 236.1 863.2 237.6 863.3 238.4 863.5 237.8 863.6 238.4 863.8 237.8 863.8 237.5 863.9 237.4 864.1 234.6 864.2 234.2 864.4 230.5 864.5 234.1 864.7 232.2 864.8 228.6 865.0 225.9 865.1 227.9 865.3 226.6 865.4 225.8 865.6 225.0 865.6 224.5 865.7 225.7 865.9 227.1 866.0 228.4 866.2 228.0 866.3 230.3 866.5 233.2 866.6 232.1 866.8 234.1 866.9 240.0 866.9 236.9 867.1 240.9 867.2 243.0 867.4 242.8 867.5 245.9 867.7 245.8 867.8 246.3 868.0 249.3 868.1 251.1 868.3 252.7 868.3 253.4 868.4 252.3 868.6 252.0 868.7 249.5 868.9 247.7 869.0 248.7 869.2 244.0 869.3 244.3 869.5 245.5 869.6 241.6 869.8 241.3 869.9 238.7 870.0 237.8 870.1 238.4 870.2 239.0 870.4 239.8 870.5 240.4 870.7 243.4 870.8 243.6 871.0 243.4 871.1 243.4 871.3 248.2 871.4 246.1 871.6 249.7 871.7 245.8 871.7 247.7 871.9 254.2 872.0 253.3 872.2 256.4 872.3 261.3 872.5 263.7 872.6 267.4 872.8 270.7 872.8 271.2 872.9 270.2 873.1 269.8 873.2 270.8 873.4 270.6 873.5 266.9 873.7 264.1 873.8 264.5 874.0 267.4 874.1 264.1 874.3 263.1 874.4 262.9 874.6 265.6 874.7 262.4 874.9 261.1 874.9 260.4 875.0 258.4 875.2 261.6 875.3 257.5 875.5 256.5 875.6 254.3 875.8 255.3 875.9 251.0 876.1 249.8 876.2 249.1 876.2 249.4 876.4 250.7 876.5 250.8 876.7 250.5 876.8 252.3 877.0 252.2 877.1 253.1 877.3 255.5 877.4 256.8 877.6 256.1 877.7 260.0 877.9 258.9 878.0 260.0 878.2 260.4 878.3 261.8 878.3 261.9 878.5 260.6 878.6 258.0 878.8 258.3 878.9 254.9 879.1 254.5 879.2 254.1 879.4 253.2 879.5 249.5 879.7 247.7 879.7 247.9 879.8 249.9 880.0 251.2 880.1 255.8 880.3 253.0 880.4 260.6 880.6 262.2 880.7 263.8 880.9 263.8 881.0 267.4 881.1 268.5 881.2 267.6 881.3 264.3 881.5 261.7 881.6 261.8 881.8 257.7 881.9 254.0 882.1 250.7 882.2 250.1 882.4 244.9 882.5 246.1 882.5 245.2 882.7 241.2 882.8 243.6 883.0 243.9 883.1 241.2 883.3 237.5 883.4 237.7 883.6 239.1 883.7 234.4 883.9 235.0 884.0 235.6 884.2 233.3 884.3 232.2 884.3 233.5 884.5 239.1 884.6 243.8 884.8 246.5 884.9 251.7 885.1 258.6 885.2 263.1 885.3 265.8 885.4 266.1 885.5 264.0 885.7 264.9 885.8 265.4 886.0 263.6 886.1 264.9 886.3 264.8 886.4 265.4 886.6 266.0 886.7 263.6 886.9 261.2 887.0 260.7 887.2 260.0 887.3 263.0 887.4 262.3 887.5 261.4 887.6 259.5 887.8 260.3 887.9 258.0 888.1 256.4 888.2 252.0 888.4 251.1 888.5 247.9 888.7 247.5 888.8 248.0 888.8 245.6 889.0 246.4 889.1 249.9 889.3 246.7 889.4 244.2 889.6 244.4 889.7 246.1 889.9 247.4 890.0 245.6 890.2 247.0 890.3 245.8 890.5 243.6 890.6 245.4 890.8 244.2 890.8 245.1 890.9 245.0 891.1 247.0 891.2 248.1 891.4 250.1 891.5 253.1 891.7 253.7 891.8 257.8 892.0 258.2 892.1 261.8 892.2 260.5 892.3 263.1 892.4 264.6 892.6 264.0 892.7 268.5 892.9 270.1 893.0 270.1 893.2 270.5 893.3 272.4 893.5 274.0 893.6 275.7 893.6 274.9 893.8 274.5 893.9 272.8 894.1 274.8 894.2 272.7 894.4 272.9 894.5 271.8 894.7 268.7 894.8 268.0 895.0 266.3 895.0 266.2 895.1 267.5 895.3 270.6 895.4 275.2 895.6 276.5 895.7 277.6 895.9 280.8 896.0 282.4 896.2 285.3 896.3 287.6 896.4 290.1 896.5 288.5 896.6 285.0 896.8 280.5 896.9 279.0 897.1 279.2 897.2 271.5 897.4 270.2 897.5 267.6 897.7 265.5 897.8 262.4 897.8 263.6 898.0 264.1 898.1 265.5 898.3 265.1 898.4 269.2 898.6 268.7 898.7 269.7 898.9 273.8 899.0 273.7 899.2 276.9 899.3 276.3 899.5 276.9 899.6 278.2 899.8 281.7 899.9 282.0 899.9 280.2 900.1 283.2 900.2 283.7 900.4 287.6 900.5 287.6 900.7 289.5 900.8 293.1 901.0 296.6 901.1 297.7 901.2 299.2 901.3 298.2 901.4 296.4 901.6 300.1 901.7 301.2 901.9 303.6 902.0 306.4 902.2 306.3 902.3 303.3 902.5 307.4 902.6 308.1 902.8 310.3 902.9 310.6 903.1 310.9 903.1 310.9 903.2 308.1 903.4 303.5 903.5 302.0 903.7 298.7 903.8 297.9 904.0 292.8 904.1 288.8 904.2 288.8 904.3 288.2 904.4 288.6 904.6 284.1 904.7 281.7 904.9 286.0 905.0 283.4 905.2 281.0 905.3 280.9 905.5 277.9 905.6 277.4 905.6 277.8 905.8 278.8 905.9 278.2 906.1 280.6 906.2 279.0 906.4 282.3 906.5 281.2 906.7 278.0 906.8 281.2 907.0 279.7 907.1 281.8 907.3 282.4 907.4 283.9 907.6 283.1 907.6 282.5 907.7 283.1 907.9 281.5 908.0 283.9 908.2 282.5 908.3 283.3 908.5 279.4 908.6 277.7 908.8 279.4 908.9 275.9 909.1 276.0 909.2 275.7 909.4 276.2 909.5 273.2 909.7 272.5 909.7 277.5 909.8 272.5 910.0 270.8 910.1 269.2 910.3 266.4 910.4 263.6 910.4 263.7 910.6 266.0 910.7 267.7 910.9 268.8 911.0 271.5 911.2 267.2 911.3 271.4 911.5 271.9 911.6 270.8 911.8 275.4 911.9 277.1 912.1 277.6 912.2 276.8 912.4 279.4 912.5 280.7 912.5 279.7 912.7 274.6 912.8 269.6 913.0 266.0 913.1 258.7 913.2 258.3 913.3 255.1 913.4 253.4 913.6 252.5 913.7 249.2 913.9 247.0 914.0 247.9 914.2 241.6 914.3 240.6 914.5 241.0 914.6 239.3 914.6 239.4 914.8 239.9 914.9 240.7 915.1 239.4 915.2 241.1 915.4 240.4 915.5 244.8 915.7 244.5 915.8 244.4 916.0 245.2 916.1 244.9 916.3 244.2 916.4 247.6 916.6 247.2 916.7 247.2 916.7 247.4 916.9 247.6 917.0 247.8 917.2 247.2 917.3 247.0 917.5 244.8 917.6 247.2 917.8 246.1 917.9 245.7 918.1 241.4 918.2 244.3 918.4 243.7 918.5 243.0 918.7 241.1 918.8 240.9 918.8 242.2 919.0 242.0 919.1 244.0 919.3 244.1 919.4 246.4 919.6 244.6 919.7 244.5 919.9 247.9 920.0 247.2 920.2 246.4 920.3 246.3 920.5 251.7 920.6 250.2 920.8 251.0 920.8 250.6 920.9 250.6 921.1 250.6 921.2 250.7 921.4 251.2 921.5 248.1 921.7 249.8 921.8 250.1 922.0 247.6 922.1 247.5 922.2 246.4 922.3 247.4 922.4 248.7 922.6 252.3 922.7 253.0 922.9 257.7 923.0 257.2 923.2 259.9 923.3 261.0 923.5 262.4 923.6 263.3 923.6 264.6 923.8 262.8 923.9 260.1 924.1 260.0 924.2 258.0 924.4 261.0 924.5 259.7 924.7 259.5 924.8 258.5 925.0 253.8 925.1 251.1 925.3 251.5 925.4 252.2 925.6 250.0 925.7 249.7 925.7 250.7 925.9 251.3 926.0 253.2 926.2 253.3 926.3 259.0 926.5 260.5 926.6 257.7 926.8 259.9 926.9 262.4 927.1 264.2 927.1 264.1 927.2 263.4 927.4 263.2 927.5 263.3 927.7 263.1 927.8 260.0 928.0 257.9 928.1 257.8 928.3 259.5 928.4 257.6 928.6 256.5 928.7 256.4 928.9 254.6 929.0 253.1 929.2 251.0 929.2 251.6 929.3 252.9 929.5 254.4 929.6 253.9 929.8 252.6 929.9 256.0 930.1 256.2 930.2 258.2 930.4 261.2 930.5 261.5 930.7 259.2 930.8 261.0 931.0 263.2 931.1 264.5 931.2 264.6 931.3 264.5 931.4 261.6 931.6 260.1 931.7 257.6 931.9 257.4 932.0 254.6 932.2 251.7 932.3 249.4 932.5 249.8 932.6 246.4 932.6 249.4 932.8 247.4 932.9 246.3 933.1 248.1 933.2 244.1 933.4 247.5 933.5 244.3 933.7 246.6 933.8 243.8 934.0 243.0 934.1 241.5 934.3 244.1 934.4 244.6 934.6 241.0 934.7 245.8 934.7 243.1 934.9 239.8 935.0 243.2 935.2 238.5 935.3 240.5 935.5 234.5 935.6 236.3 935.8 234.0 935.8 233.4 935.9 234.6 936.1 235.4 936.2 239.5 936.4 240.9 936.5 242.6 936.7 242.9 936.8 243.7 937.0 248.3 937.1 250.6 937.3 251.5 937.4 253.1 937.5 253.9 937.6 253.7 937.7 252.7 937.9 249.5 938.0 246.4 938.2 248.8 938.3 241.6 938.5 243.0 938.6 240.6 938.8 241.3 938.9 237.3 938.9 234.6 939.1 234.7 939.2 236.2 939.4 235.3 939.5 233.5 939.7 233.0 939.8 230.5 940.0 230.0 940.1 230.9 940.3 230.5 940.4 230.4 940.6 229.3 940.6 230.8 940.7 229.8 940.9 232.4 941.0 233.1 941.2 235.7 941.3 236.2 941.5 232.2 941.6 235.9 941.8 237.4 941.9 238.4 942.1 238.4 942.2 237.3 942.4 241.2 942.4 238.9 942.5 239.3 942.7 241.5 942.8 241.4 943.0 242.1 943.1 244.5 943.3 248.0 943.4 247.0 943.6 247.6 943.7 247.7 943.8 249.3 943.9 248.7 944.0 254.2 944.2 256.4 944.3 258.6 944.5 261.8 944.6 263.2 944.8 266.9 944.9 269.0 945.1 271.4 945.1 272.3 945.2 272.4 945.4 271.2 945.5 272.5 945.7 270.0 945.8 271.8 946.0 269.5 946.1 268.4 946.3 266.1 946.4 268.3 946.6 267.2 946.7 266.1 946.9 265.9 947.0 264.8 947.2 263.6 947.2 263.3 947.3 266.5 947.5 269.6 947.6 274.9 947.8 278.7 947.9 280.7 947.9 280.4 948.1 281.0 948.2 280.9 948.4 280.3 948.5 279.3 948.7 284.2 948.8 284.6 949.0 284.3 949.1 285.2 949.3 287.3 949.4 287.9 949.6 287.4 949.7 287.3 949.9 289.5 950.0 290.4 950.0 291.7 950.2 288.5 950.3 291.9 950.5 290.4 950.6 292.1 950.8 296.4 950.9 294.1 951.1 295.5 951.1 295.0 951.2 297.6 951.4 295.6 951.5 293.7 951.7 297.0 951.8 298.4 952.0 297.1 952.1 297.7 952.3 296.4 952.4 296.2 952.6 298.0 952.7 296.9 952.9 298.1 953.0 298.1 953.1 298.5 953.2 298.4 953.3 297.2 953.5 298.1 953.6 296.3 953.8 294.6 953.9 292.5 954.1 293.4 954.2 290.4 954.4 292.9 954.5 288.5 954.7 287.6 954.8 287.7 954.9 286.2 955.0 287.6 955.1 284.0 955.3 282.4 955.4 282.2 955.6 276.2 955.7 276.5 955.9 275.4 956.0 274.5 956.2 270.8 956.2 268.3 956.3 270.3 956.5 268.5 956.6 267.7 956.8 265.9 956.9 261.1 957.1 262.0 957.2 258.1 957.4 255.1 957.5 254.6 957.6 253.5 957.7 252.3 957.8 255.4 958.0 255.0 958.1 259.9 958.3 259.2 958.4 260.4 958.6 264.0 958.7 262.4 958.9 267.0 959.0 264.1 959.2 266.1 959.3 267.0 959.5 270.4 959.6 271.3 959.7 272.7 959.8 271.9 959.9 269.2 960.1 267.3 960.2 265.2 960.4 260.4 960.5 256.6 960.7 253.7 960.8 253.2 961.0 249.5 961.1 246.7 961.1 246.8 961.3 247.8 961.4 248.7 961.6 248.7 961.7 247.9 961.9 251.2 962.0 248.1 962.2 250.9 962.3 253.9 962.5 253.1 962.6 255.3 962.8 254.0 962.9 255.0 963.1 255.1 963.2 255.3 963.2 255.5 963.4 254.7 963.5 251.2 963.7 250.3 963.8 247.8 964.0 247.6 964.1 245.8 964.3 246.0 964.4 245.1 964.6 246.1 964.6 246.5 964.7 242.9 964.9 243.4 965.0 245.3 965.2 243.0 965.3 243.4 965.5 241.4 965.6 245.3 965.8 244.4 965.9 242.2 966.1 241.5 966.2 242.1 966.4 244.2 966.5 243.5 966.7 243.1 966.7 243.6 966.8 246.1 967.0 248.8 967.1 251.5 967.3 251.4 967.4 253.6 967.6 255.5 967.7 258.0 967.9 259.8 968.0 259.0 968.1 259.8 968.2 262.7 968.3 267.6 968.5 268.5 968.6 271.1 968.8 276.7 968.8 277.7 968.9 275.3 969.1 278.3 969.2 282.1 969.4 281.1 969.5 285.0 969.7 282.8 969.8 286.5 970.0 288.8 970.1 290.9 970.1 290.8 970.3 287.6 970.4 284.8 970.6 282.9 970.7 283.5 970.9 281.2 971.0 279.7 971.2 276.6 971.3 273.3 971.5 271.4 971.5 270.4 971.6 271.4 971.8 270.2 971.9 271.7 972.1 272.3 972.2 274.3 972.4 271.1 972.5 273.5 972.7 271.3 972.8 275.1 973.0 273.0 973.1 273.4 973.3 272.6 973.4 273.5 973.6 273.7 973.6 273.9 973.7 277.7 973.9 275.1 974.0 278.2 974.2 280.3 974.3 278.0 974.5 278.3 974.6 282.6 974.8 281.9 974.9 283.8 975.0 284.7 975.1 284.1 975.2 282.3 975.4 280.0 975.5 281.2 975.7 278.3 975.8 279.2 976.0 273.4 976.1 273.3 976.3 271.9 976.4 271.4 976.6 269.3 976.7 267.5 976.9 267.1 977.0 264.4 977.1 264.1 977.2 264.4 977.3 264.6 977.5 266.9 977.6 264.0 977.8 269.5 977.9 265.6 978.1 268.6 978.2 270.1 978.4 269.9 978.5 270.6 978.7 274.4 978.8 275.0 979.0 274.6 979.1 274.8 979.2 274.7 979.3 272.6 979.4 271.2 979.6 268.5 979.7 266.7 979.9 263.3 980.0 261.0 980.2 255.1 980.3 252.4 980.5 249.7 980.6 248.6 980.6 248.6 980.8 248.9 980.9 247.4 981.1 249.4 981.2 250.6 981.4 249.5 981.5 247.3 981.7 249.7 981.8 249.7 981.9 250.5 982.0 249.7 982.1 248.8 982.3 246.6 982.4 246.2 982.6 246.0 982.7 242.5 982.9 242.1 983.0 240.4 983.2 239.3 983.3 237.5 983.3 237.7 983.5 238.5 983.6 241.0 983.8 244.4 983.9 246.2 984.1 245.4 984.2 247.6 984.4 251.6 984.5 253.5 984.7 255.6 984.7 255.6 984.8 256.1 985.0 258.3 985.1 255.5 985.3 255.3 985.4 260.0 985.6 257.6 985.7 260.7 985.9 258.9 986.0 258.8 986.2 263.9 986.3 261.8 986.5 260.1 986.6 262.7 986.8 263.4 986.8 263.5 986.9 264.7 987.1 263.3 987.2 265.5 987.4 267.6 987.5 268.7 987.7 268.6 987.8 267.9 988.0 267.4 988.1 273.3 988.3 269.7 988.4 271.7 988.6 273.3 988.7 274.8 988.9 274.8 988.9 273.5 989.0 275.7 989.2 279.4 989.3 280.3 989.5 278.0 989.6 280.4 989.8 277.6 989.9 281.5 990.1 283.2 990.2 282.4 990.3 286.1 990.4 285.9 990.5 287.2 990.7 285.3 990.8 288.8 991.0 292.8 991.1 292.6 991.3 293.1 991.4 296.6 991.6 299.6 991.7 300.3 991.7 299.8 991.9 297.6 992.0 297.6 992.2 291.2 992.3 290.0 992.5 293.1 992.6 290.3 992.8 287.1 992.9 284.3 993.1 280.6 993.1 282.4 993.2 281.7 993.4 279.2 993.5 281.9 993.7 280.1 993.8 276.7 994.0 277.5 994.1 274.7 994.3 274.0 994.4 271.5 994.6 273.9 994.7 267.4 994.9 268.5 995.0 269.3 995.1 268.4 995.2 263.7 995.3 263.9 995.5 264.5 995.6 262.4 995.8 261.7 995.9 261.5 996.1 260.8 996.2 262.0 996.4 256.5 996.5 260.1 996.5 257.9 996.7 258.3 996.8 255.7 997.0 258.1 997.1 251.7 997.3 255.4 997.4 251.6 997.6 250.9 997.7 252.8 997.9 249.0 998.0 249.9 998.2 249.5 998.3 245.8 998.5 246.2 998.6 245.1 998.6 244.4 998.8 245.6 998.9 245.7 999.1 248.0 999.2 250.0 999.4 251.2 999.5 250.9 999.7 250.6 999.8 251.4 1000.0 251.9 1000.1 254.0 1000.3 256.5 1000.3 254.5 1000.4 256.4 1000.6 257.8 1000.7 262.6 1000.9 263.3 1001.0 263.8 1001.2 268.7 1001.3 270.5 1001.4 270.8 1001.5 269.4 1001.6 267.3 1001.8 263.9 1001.9 264.5 1002.1 262.9 1002.2 260.1 1002.4 256.5 1002.5 254.2 1002.7 252.5 1002.8 252.7 1002.8 247.8 1003.0 246.3 1003.1 242.4 1003.3 238.6 1003.4 238.4 1003.6 236.3 1003.7 231.7 1003.9 230.0 1003.9 229.5 1004.0 231.0 1004.2 233.9 1004.3 233.4 1004.5 238.9 1004.6 237.3 1004.8 240.7 1004.9 238.9 1005.1 245.0 1005.2 245.2 1005.3 244.9 1005.4 245.1 1005.5 248.8 1005.7 252.3 1005.8 252.6 1006.0 252.8 1006.1 253.7 1006.3 254.8 1006.4 257.6 1006.6 257.1 1006.7 260.8 1006.9 264.9 1006.9 263.8 1007.0 263.9 1007.2 263.6 1007.3 266.3 1007.5 266.7 1007.6 268.5 1007.8 265.4 1007.9 265.2 1008.1 266.6 1008.2 266.0 1008.4 268.5 1008.5 268.4 1008.7 268.1 1008.8 270.0 1009.0 272.3 1009.0 272.0 1009.1 270.4 1009.3 272.5 1009.4 274.1 1009.6 275.7 1009.7 275.0 1009.9 274.5 1010.0 278.3 1010.2 277.1 1010.3 279.2 1010.4 280.0 1010.5 283.4 1010.6 284.6 1010.8 289.2 1010.9 292.5 1011.1 296.0 1011.1 297.7 1011.2 296.2 1011.4 295.7 1011.5 294.6 1011.7 290.4 1011.8 289.3 1012.0 288.2 1012.1 290.2 1012.3 289.1 1012.4 286.7 1012.6 285.6 1012.7 284.8 1012.9 283.2 1013.0 283.1 1013.2 282.0 1013.2 280.4 1013.3 283.0 1013.5 280.8 1013.6 276.9 1013.8 278.9 1013.9 277.4 1014.1 275.2 1014.2 273.1 1014.4 269.7 1014.5 268.5 1014.6 267.2 1014.7 268.7 1014.8 271.2 1015.0 271.4 1015.1 270.7 1015.3 277.6 1015.4 279.2 1015.6 280.5 1015.7 276.8 1015.9 282.3 1016.0 280.5 1016.0 282.0 1016.2 284.4 1016.3 286.8 1016.5 284.2 1016.6 285.6 1016.8 285.1 1016.9 288.2 1017.1 287.6 1017.2 289.4 1017.4 292.5 1017.5 292.2 1017.7 293.4 1017.8 294.5 1018.0 295.7 1018.1 296.5 1018.1 294.2 1018.3 291.4 1018.4 290.9 1018.6 289.2 1018.7 288.2 1018.9 284.9 1019.0 283.6 1019.2 279.5 1019.3 276.5 1019.4 275.5 1019.5 274.7 1019.6 275.9 1019.8 277.8 1019.9 278.1 1020.1 281.2 1020.2 280.0 1020.4 284.5 1020.5 281.1 1020.7 285.2 1020.8 284.3 1021.0 288.6 1021.1 286.5 1021.3 289.1 1021.4 288.7 1021.5 289.9 1021.6 289.2 1021.7 282.2 1021.9 275.9 1022.0 271.0 1022.2 265.9 1022.2 259.2 1022.3 260.7 1022.5 259.6 1022.6 261.2 1022.8 258.4 1022.9 256.6 1023.1 256.2 1023.2 259.6 1023.4 258.4 1023.5 259.1 1023.7 254.5 1023.8 255.3 1024.0 255.5 1024.1 257.5 1024.3 256.4 1024.3 255.3 1024.4 253.2 1024.6 254.5 1024.7 252.7 1024.9 254.2 1025.0 254.7 1025.2 251.4 1025.3 249.0 1025.5 250.9 1025.6 249.3 1025.7 248.9 1025.8 249.5 1025.9 251.3 1026.1 252.9 1026.2 254.9 1026.4 253.5 1026.5 256.5 1026.7 259.2 1026.8 261.2 1027.0 262.8 1027.1 264.1 1027.1 262.5 1027.3 260.2 1027.4 257.7 1027.6 256.3 1027.7 253.3 1027.9 254.0 1028.0 248.2 1028.2 246.1 1028.3 241.4 1028.5 244.4 1028.5 241.8 1028.6 240.5 1028.8 238.6 1028.9 238.9 1029.1 237.2 1029.2 238.9 1029.4 234.5 1029.5 234.3 1029.7 233.5 1029.8 233.2 1029.9 232.8 1030.0 235.4 1030.1 238.5 1030.3 241.9 1030.4 244.3 1030.6 248.8 1030.7 251.1 1030.9 253.8 1031.0 255.2 1031.2 259.3 1031.2 260.8 1031.3 259.4 1031.5 259.4 1031.6 258.4 1031.8 256.5 1031.9 253.8 1032.1 253.5 1032.2 246.4 1032.4 249.5 1032.5 242.7 1032.7 243.9 1032.8 241.9 1033.0 240.5 1033.1 238.5 1033.3 236.5 1033.3 235.1 1033.4 235.3 1033.6 235.3 1033.7 236.5 1033.9 236.1 1034.0 234.3 1034.2 239.0 1034.3 235.8 1034.5 237.2 1034.6 237.2 1034.8 237.5 1034.9 240.1 1035.1 238.3 1035.2 237.4 1035.4 239.0 1035.4 238.5 1035.5 238.5 1035.7 243.9 1035.8 245.5 1036.0 242.3 1036.1 248.6 1036.3 249.8 1036.4 245.9 1036.6 250.2 1036.7 250.2 1036.8 252.8 1036.9 249.3 1037.0 254.6 1037.2 254.4 1037.3 257.4 1037.5 259.6 1037.6 256.8 1037.8 261.0 1037.9 262.5 1038.1 265.1 1038.2 267.2 1038.2 266.9 1038.4 265.9 1038.5 270.1 1038.7 269.2 1038.8 273.5 1039.0 273.5 1039.1 275.2 1039.3 277.4 1039.4 276.1 1039.6 279.9 1039.6 278.5 1039.7 283.7 1039.9 285.9 1040.0 282.9 1040.2 284.3 1040.3 289.1 1040.5 289.3 1040.6 290.4 1040.8 296.4 1040.9 294.6 1041.0 294.1 1041.1 295.8 1041.2 297.6 1041.4 300.5 1041.5 299.0 1041.7 298.2 1041.8 299.8 1041.9 301.5 1042.0 299.7 1042.1 299.5 1042.3 299.9 1042.4 298.0 1042.6 296.2 1042.7 294.1 1042.9 294.9 1043.0 294.5 1043.2 293.0 1043.3 293.4 1043.5 291.1 1043.6 291.9 1043.8 289.1 1043.8 290.3 1043.9 287.0 1044.1 289.0 1044.2 287.3 1044.4 285.1 1044.5 281.0 1044.7 281.8 1044.8 277.6 1045.0 278.5 1045.1 278.2 1045.1 276.3 1045.3 277.3 1045.4 277.2 1045.6 277.9 1045.7 274.3 1045.9 270.7 1046.0 269.8 1046.2 271.3 1046.3 272.2 1046.5 271.7 1046.6 269.1 1046.8 266.9 1046.9 265.9 1047.1 266.0 1047.2 265.5 1047.2 266.3 1047.4 264.8 1047.5 266.6 1047.7 263.5 1047.8 263.3 1048.0 263.6 1048.1 262.7 1048.3 259.3 1048.4 257.0 1048.6 256.8 1048.7 258.9 1048.9 258.6 1049.0 257.5 1049.2 257.6 1049.3 257.8 1049.3 254.2 1049.5 257.4 1049.6 256.6 1049.8 254.4 1049.9 252.0 1050.1 252.0 1050.2 248.3 1050.4 250.0 1050.5 247.7 1050.7 248.2 1050.8 247.0 1051.0 249.4 1051.1 244.5 1051.3 245.6 1051.4 243.8 1051.4 247.0 1051.6 245.2 1051.7 239.9 1051.9 239.9 1052.0 241.2 1052.2 238.7 1052.3 239.7 1052.5 238.1 1052.6 235.3 1052.8 235.7 1052.8 237.0 1052.9 235.6 1053.1 235.4 1053.2 235.3 1053.4 234.0 1053.5 236.0 1053.7 231.0 1053.8 233.5 1054.0 231.3 1054.1 232.4 1054.3 232.6 1054.4 231.8 1054.4 231.8 1054.6 231.6 1054.7 230.8 1054.9 229.2 1055.0 230.4 1055.2 230.5 1055.3 229.9 1055.5 228.4 1055.6 227.8 1055.8 226.4 1055.8 226.7 1055.9 227.4 1056.1 229.1 1056.2 230.7 1056.4 230.1 1056.5 228.7 1056.7 232.2 1056.8 233.8 1057.0 234.1 1057.1 232.4 1057.3 232.5 1057.4 233.5 1057.6 234.0 1057.6 237.9 1057.7 236.9 1057.9 239.3 1058.0 239.6 1058.2 238.9 1058.3 236.4 1058.5 239.0 1058.6 238.9 1058.8 236.0 1058.9 236.6 1059.1 237.8 1059.2 241.5 1059.4 238.9 1059.5 237.6 1059.7 240.4 1059.7 241.3 1059.8 238.4 1060.0 243.5 1060.1 239.8 1060.3 243.2 1060.4 242.9 1060.6 240.8 1060.7 242.1 1060.9 242.6 1061.0 242.3 1061.2 244.5 1061.3 243.6 1061.5 241.1 1061.6 244.3 1061.8 242.4 1061.8 244.1 1061.9 245.6 1062.1 245.9 1062.2 248.7 1062.4 247.7 1062.5 247.9 1062.7 252.4 1062.8 251.8 1063.0 251.2 1063.1 252.4 1063.2 252.1 1063.3 253.9 1063.4 254.0 1063.6 260.3 1063.7 261.6 1063.9 258.7 1064.0 261.7 1064.2 265.1 1064.3 266.0 1064.5 266.3 1064.6 271.8 1064.8 271.9 1064.9 275.1 1065.0 275.9 1065.1 275.2 1065.2 271.1 1065.4 271.1 1065.5 264.5 1065.7 265.2 1065.8 261.6 1066.0 258.6 1066.0 257.8 1066.1 259.9 1066.3 260.8 1066.4 258.3 1066.6 258.8 1066.7 261.2 1066.9 261.7 1067.0 265.2 1067.2 265.0 1067.3 266.1 1067.5 265.5 1067.6 268.6 1067.8 267.4 1067.9 268.0 1068.1 268.6 1068.1 269.6 1068.2 268.1 1068.4 265.8 1068.5 265.2 1068.7 265.1 1068.8 266.0 1069.0 261.4 1069.1 262.6 1069.3 262.6 1069.4 261.5 1069.4 261.5 1069.6 265.0 1069.7 267.0 1069.9 270.5 1070.0 276.9 1070.1 280.5 1070.2 278.6 1070.3 278.1 1070.5 277.3 1070.6 281.0 1070.8 281.2 1070.9 279.4 1071.1 281.0 1071.2 280.9 1071.4 284.2 1071.5 283.6 1071.7 286.6 1071.8 287.0 1072.0 286.0 1072.1 287.0 1072.2 287.4 1072.3 287.3 1072.4 285.3 1072.6 285.4 1072.7 286.4 1072.9 283.9 1073.0 281.2 1073.2 281.3 1073.3 282.6 1073.5 278.4 1073.6 277.0 1073.8 278.7 1073.9 275.5 1074.1 272.6 1074.2 271.6 1074.3 273.8 1074.4 272.2 1074.5 274.8 1074.7 270.2 1074.8 267.8 1075.0 267.8 1075.1 265.9 1075.3 269.0 1075.4 264.6 1075.6 267.5 1075.7 265.0 1075.7 266.4 1075.9 262.7 1076.0 263.4 1076.2 258.1 1076.3 259.2 1076.5 257.7 1076.6 259.8 1076.8 256.9 1076.9 256.3 1077.1 254.6 1077.1 254.2 1077.2 256.3 1077.4 259.3 1077.5 259.5 1077.7 263.8 1077.8 262.2 1078.0 263.8 1078.1 265.3 1078.3 267.1 1078.4 267.9 1078.5 269.2 1078.6 269.5 1078.7 271.0 1078.9 277.2 1079.0 278.0 1079.2 277.9 1079.3 279.2 1079.5 280.0 1079.6 284.4 1079.8 285.4 1079.9 287.6 1079.9 285.2 1080.1 284.4 1080.2 283.8 1080.4 279.5 1080.5 281.1 1080.7 278.3 1080.8 276.4 1081.0 271.3 1081.1 272.6 1081.3 270.7 1081.4 267.7 1081.4 269.5 1081.6 265.4 1081.7 259.8 1081.9 261.3 1082.0 261.1 1082.2 255.4 1082.3 255.7 1082.5 251.2 1082.6 250.2 1082.8 245.1 1082.8 245.1 1082.9 245.6 1083.1 243.2 1083.2 239.3 1083.4 241.5 1083.5 238.9 1083.7 234.8 1083.8 231.5 1084.0 233.4 1084.1 229.6 1084.2 231.2 1084.3 231.8 1084.4 229.1 1084.6 229.2 1084.7 230.8 1084.9 228.9 1085.0 226.4 1085.2 230.1 1085.3 229.5 1085.5 227.8 1085.6 229.6 1085.8 227.9 1085.9 227.8 1086.1 229.7 1086.2 225.9 1086.4 225.3 1086.5 227.8 1086.7 226.6 1086.8 228.2 1086.9 227.3 1087.0 227.0 1087.1 228.3 1087.3 227.6 1087.4 232.4 1087.6 230.9 1087.7 232.9 1087.9 233.5 1088.0 233.7 1088.2 232.3 1088.3 236.3 1088.5 235.2 1088.6 235.2 1088.8 234.6 1088.9 240.3 1089.1 238.6 1089.2 239.4 1089.4 239.6 1089.4 241.3 1089.5 240.1 1089.7 239.6 1089.8 237.3 1090.0 234.5 1090.1 235.6 1090.3 230.6 1090.4 229.2 1090.6 230.4 1090.7 230.4 1090.9 229.7 1091.0 226.2 1091.1 225.4 1091.2 225.3 1091.3 223.1 1091.5 221.1 1091.6 221.3 1091.8 218.2 1091.9 217.2 1092.1 216.6 1092.2 214.6 1092.2 214.2 1092.4 216.3 1092.5 217.3 1092.7 220.0 1092.8 219.0 1093.0 220.6 1093.1 221.0 1093.3 226.9 1093.4 228.9 1093.6 230.0 1093.6 229.0 1093.7 230.0 1093.9 231.1 1094.0 234.3 1094.2 234.8 1094.3 235.1 1094.5 240.4 1094.6 242.0 1094.8 243.2 1094.9 244.0 1095.0 244.4 1095.1 245.7 1095.2 246.9 1095.4 245.6 1095.5 247.9 1095.7 247.9 1095.8 252.7 1096.0 249.6 1096.1 250.9 1096.3 252.5 1096.4 255.3 1096.6 254.5 1096.7 259.9 1096.9 259.4 1097.0 257.4 1097.2 260.5 1097.3 261.6 1097.4 261.0 1097.5 260.5 1097.6 259.1 1097.8 256.6 1097.9 255.9 1098.1 255.1 1098.2 252.2 1098.4 251.4 1098.5 248.0 1098.7 249.6 1098.8 246.7 1098.8 249.0 1099.0 247.8 1099.1 246.0 1099.3 240.7 1099.4 240.4 1099.6 237.4 1099.7 236.9 1099.9 232.9 1100.0 230.8 1100.1 231.0 1100.2 229.4 1100.3 231.5 1100.5 229.3 1100.6 227.3 1100.8 225.1 1100.9 223.7 1101.1 224.2 1101.2 221.4 1101.4 220.0 1101.5 219.5 1101.5 218.7 1101.7 219.2 1101.8 219.8 1102.0 222.8 1102.1 220.7 1102.3 221.5 1102.4 224.9 1102.6 225.2 1102.7 225.5 1102.9 224.9 1102.9 225.8 1103.0 224.4 1103.2 223.9 1103.3 220.1 1103.5 220.8 1103.6 221.7 1103.8 219.0 1103.9 215.4 1104.1 217.1 1104.2 215.3 1104.3 214.3 1104.4 215.0 1104.5 215.9 1104.7 218.7 1104.8 218.4 1105.0 216.9 1105.1 219.3 1105.3 224.6 1105.4 225.0 1105.6 225.6 1105.7 224.3 1105.9 226.9 1106.0 228.2 1106.1 228.4 1106.2 227.6 1106.3 225.4 1106.5 223.1 1106.6 219.9 1106.8 217.2 1106.9 211.6 1107.1 210.6 1107.2 209.1 1107.4 206.4 1107.5 203.4 1107.5 204.2 1107.7 206.1 1107.8 207.3 1108.0 211.5 1108.1 213.9 1108.3 214.0 1108.4 216.4 1108.5 218.7 1108.6 218.9 1108.7 222.4 1108.9 220.9 1109.0 226.3 1109.2 225.6 1109.3 229.0 1109.4 227.1 1109.5 231.5 1109.6 231.3 1109.8 234.7 1109.9 230.3 1110.1 231.4 1110.2 236.4 1110.4 237.8 1110.5 234.5 1110.7 239.3 1110.8 241.0 1110.8 241.9 1111.0 241.6 1111.1 240.8 1111.3 242.8 1111.4 250.3 1111.6 250.3 1111.7 253.4 1111.9 253.2 1111.9 254.4 1112.0 254.6 1112.2 253.6 1112.3 255.0 1112.5 253.9 1112.6 255.4 1112.8 258.3 1112.9 256.8 1113.1 255.9 1113.2 260.0 1113.4 259.8 1113.5 258.0 1113.7 255.5 1113.8 260.7 1114.0 261.1 1114.0 257.9 1114.1 261.4 1114.3 257.6 1114.4 258.6 1114.6 258.3 1114.7 259.5 1114.9 259.0 1115.0 261.7 1115.2 258.7 1115.3 260.1 1115.5 259.5 1115.6 259.9 1115.8 258.5 1115.9 259.5 1116.1 260.3 1116.1 260.0 1116.2 258.4 1116.4 257.8 1116.5 256.0 1116.7 255.3 1116.8 254.7 1117.0 252.9 1117.1 254.9 1117.3 254.9 1117.4 252.8 1117.6 250.9 1117.7 251.2 1117.8 249.3 1117.9 252.3 1118.0 253.0 1118.2 247.4 1118.3 250.6 1118.5 249.9 1118.6 250.0 1118.8 249.0 1118.9 246.8 1119.1 249.0 1119.2 248.3 1119.4 248.6 1119.5 248.6 1119.7 247.6 1119.8 251.0 1120.0 246.0 1120.1 247.3 1120.3 245.6 1120.3 247.5 1120.4 247.6 1120.6 241.8 1120.7 237.5 1120.9 233.7 1121.0 233.8 1121.2 228.7 1121.3 228.0 1121.4 224.4 1121.5 223.0 1121.6 220.8 1121.8 215.2 1121.9 217.0 1122.1 210.0 1122.2 209.2 1122.4 206.9 1122.4 208.8 1122.5 206.9 1122.7 207.5 1122.8 205.2 1123.0 205.7 1123.1 205.9 1123.3 207.7 1123.4 204.2 1123.6 206.5 1123.7 208.5 1123.9 204.1 1124.0 203.0 1124.2 204.8 1124.3 205.4 1124.5 208.3 1124.6 206.4 1124.8 207.0 1124.9 205.0 1125.1 205.4 1125.1 205.6 1125.2 205.9 1125.4 208.3 1125.5 209.4 1125.7 211.8 1125.8 210.7 1126.0 212.0 1126.1 218.8 1126.3 218.2 1126.4 219.6 1126.6 223.4 1126.7 223.9 1126.9 225.0 1126.9 225.2 1127.0 224.2 1127.2 221.1 1127.3 217.5 1127.5 216.9 1127.6 212.3 1127.8 208.7 1127.9 205.0 1127.9 205.1 1128.1 206.7 1128.2 207.1 1128.4 206.7 1128.5 208.8 1128.7 209.0 1128.8 208.9 1129.0 210.0 1129.1 212.3 1129.3 212.2 1129.3 210.3 1129.4 210.8 1129.6 212.9 1129.7 211.0 1129.9 213.3 1130.0 213.2 1130.2 211.6 1130.3 211.3 1130.5 213.0 1130.6 214.8 1130.8 215.1 1130.9 217.6 1131.1 215.8 1131.1 215.8 1131.2 218.6 1131.4 220.0 1131.5 226.2 1131.7 225.4 1131.8 227.7 1132.0 231.0 1132.1 236.0 1132.1 233.2 1132.3 233.6 1132.4 236.6 1132.6 238.4 1132.7 236.4 1132.9 239.1 1133.0 237.5 1133.2 241.8 1133.3 238.3 1133.5 240.5 1133.6 241.2 1133.8 241.9 1133.9 242.9 1133.9 243.1 1134.1 241.4 1134.2 242.9 1134.4 240.7 1134.5 240.1 1134.7 237.4 1134.8 237.8 1135.0 238.6 1135.1 234.6 1135.3 234.3 1135.4 233.2 1135.6 231.7 1135.6 234.5 1135.7 228.2 1135.9 228.4 1136.0 219.6 1136.2 217.3 1136.2 215.9 1136.3 213.5 1136.5 211.1 1136.6 211.4 1136.8 211.1 1136.9 208.2 1137.1 208.9 1137.2 204.8 1137.4 206.0 1137.5 205.2 1137.6 203.8 1137.7 204.0 1137.8 204.2 1138.0 204.9 1138.1 208.2 1138.3 206.7 1138.4 209.3 1138.6 207.4 1138.7 210.7 1138.9 211.2 1139.0 209.5 1139.2 212.7 1139.3 214.0 1139.4 214.7 1139.5 214.4 1139.6 213.9 1139.8 211.9 1139.9 209.6 1140.1 211.3 1140.2 211.3 1140.4 206.9 1140.5 208.9 1140.7 204.9 1140.8 201.6 1141.0 201.5 1141.1 200.5 1141.1 203.9 1141.3 201.0 1141.4 198.8 1141.6 198.9 1141.7 200.1 1141.9 196.5 1142.0 194.3 1142.2 195.1 1142.3 192.0 1142.5 193.3 1142.5 193.9 1142.6 192.1 1142.8 190.4 1142.9 190.7 1143.1 187.5 1143.2 192.0 1143.4 191.5 1143.5 188.2 1143.7 184.8 1143.8 185.8 1144.0 183.9 1144.1 183.2 1144.3 185.0 1144.4 184.4 1144.6 183.6 1144.6 184.5 1144.7 184.9 1144.9 184.9 1145.0 187.6 1145.2 185.9 1145.3 188.5 1145.5 188.7 1145.6 191.7 1145.8 191.8 1145.9 192.3 1146.0 194.1 1146.1 195.6 1146.2 196.9 1146.4 200.1 1146.5 198.4 1146.7 202.0 1146.8 204.1 1146.9 204.7 1147.0 203.6 1147.1 203.3 1147.3 200.8 1147.4 200.4 1147.6 198.1 1147.7 196.7 1147.9 195.0 1148.0 192.7 1148.1 192.6 1148.2 192.8 1148.3 194.3 1148.5 196.6 1148.6 201.2 1148.8 198.7 1148.9 201.2 1149.1 204.5 1149.2 204.2 1149.4 204.5 1149.4 204.8 1149.5 209.4 1149.7 207.2 1149.8 210.7 1150.0 212.1 1150.1 210.5 1150.3 214.1 1150.4 211.6 1150.6 215.2 1150.7 214.7 1150.8 217.6 1150.9 217.9 1151.0 219.0 1151.2 221.0 1151.3 220.0 1151.5 219.9 1151.6 221.4 1151.8 226.4 1151.9 224.1 1152.1 226.5 1152.2 228.9 1152.2 228.1 1152.4 227.3 1152.5 227.0 1152.7 232.0 1152.8 230.1 1153.0 229.1 1153.1 231.4 1153.3 233.3 1153.4 231.2 1153.6 234.9 1153.7 235.3 1153.9 236.8 1154.0 236.7 1154.2 235.7 1154.3 235.3 1154.3 237.8 1154.5 238.3 1154.6 242.9 1154.8 240.8 1154.9 243.0 1155.1 243.5 1155.2 241.8 1155.4 246.8 1155.5 245.8 1155.7 245.1 1155.7 248.5 1155.8 250.1 1156.0 248.1 1156.1 248.1 1156.3 247.8 1156.4 248.5 1156.6 251.4 1156.7 249.9 1156.9 250.8 1157.0 251.4 1157.2 248.0 1157.3 251.3 1157.5 252.3 1157.6 252.0 1157.8 249.4 1157.8 250.6 1157.9 255.1 1158.1 256.7 1158.2 258.9 1158.4 258.3 1158.5 262.1 1158.5 264.3 1158.7 262.8 1158.8 265.8 1159.0 265.8 1159.1 266.5 1159.3 264.7 1159.4 265.6 1159.6 266.3 1159.7 270.2 1159.9 271.2 1160.0 268.1 1160.2 269.0 1160.3 271.6 1160.5 273.0 1160.6 272.9 1160.6 272.3 1160.8 270.5 1160.9 269.1 1161.1 266.3 1161.2 265.5 1161.4 264.1 1161.5 261.0 1161.7 260.9 1161.8 257.0 1161.9 255.9 1162.0 255.8 1162.1 257.6 1162.3 258.9 1162.4 257.2 1162.6 259.3 1162.7 259.2 1162.9 258.6 1163.0 260.6 1163.2 262.4 1163.3 263.3 1163.3 262.7 1163.5 261.8 1163.6 261.2 1163.8 261.0 1163.9 258.2 1164.1 254.9 1164.2 252.2 1164.4 253.6 1164.5 251.6 1164.7 250.1 1164.8 249.0 1165.0 247.7 1165.0 247.8 1165.1 250.1 1165.3 251.4 1165.4 256.8 1165.6 259.3 1165.7 258.9 1165.9 262.2 1166.0 266.0 1166.2 265.9 1166.3 268.6 1166.4 269.7 1166.5 268.5 1166.6 267.7 1166.8 265.1 1166.9 263.7 1167.1 261.9 1167.2 259.6 1167.4 260.7 1167.5 256.1 1167.7 253.1 1167.8 251.0 1167.8 251.6 1168.0 251.2 1168.1 249.3 1168.3 247.6 1168.4 244.6 1168.6 244.1 1168.7 242.3 1168.9 237.6 1168.9 240.1 1169.0 239.3 1169.2 237.3 1169.3 238.7 1169.5 236.0 1169.6 233.8 1169.8 235.7 1169.9 236.0 1170.1 230.4 1170.2 231.3 1170.3 232.6 1170.4 231.8 1170.5 231.8 1170.7 231.7 1170.8 226.2 1171.0 229.5 1171.1 225.0 1171.3 225.5 1171.4 224.7 1171.6 226.7 1171.7 222.6 1171.9 224.9 1172.0 221.6 1172.2 226.3 1172.3 222.0 1172.4 222.7 1172.5 220.7 1172.6 221.6 1172.8 224.7 1172.9 222.8 1173.1 220.3 1173.2 221.3 1173.4 221.8 1173.5 224.7 1173.7 221.7 1173.8 222.5 1174.0 223.5 1174.1 224.3 1174.3 222.6 1174.4 219.6 1174.4 219.7 1174.6 222.6 1174.7 218.7 1174.9 213.5 1175.0 213.6 1175.2 211.9 1175.3 210.3 1175.5 210.1 1175.6 208.4 1175.8 207.7 1175.8 202.0 1175.9 205.1 1176.1 204.1 1176.2 202.5 1176.4 205.6 1176.5 201.8 1176.7 201.5 1176.8 206.5 1177.0 204.3 1177.1 204.8 1177.2 205.5 1177.3 200.1 1177.4 201.2 1177.6 195.8 1177.7 193.2 1177.9 190.4 1177.9 189.1 1178.0 186.6 1178.2 186.0 1178.3 185.1 1178.5 185.2 1178.6 181.1 1178.8 182.1 1178.9 179.9 1178.9 181.4 1179.1 181.7 1179.2 184.1 1179.4 182.7 1179.5 186.6 1179.7 185.5 1179.8 186.3 1180.0 187.2 1180.1 184.5 1180.3 185.5 1180.3 185.3 1180.4 189.5 1180.6 190.3 1180.7 193.4 1180.9 193.9 1181.0 196.7 1181.2 194.7 1181.3 197.8 1181.4 196.9 1181.5 196.1 1181.6 196.0 1181.8 199.1 1181.9 198.3 1182.1 199.6 1182.2 199.5 1182.4 199.8 1182.5 205.0 1182.7 203.0 1182.8 201.3 1183.0 203.8 1183.1 204.7 1183.3 202.8 1183.4 207.7 1183.5 204.5 1183.6 207.3 1183.7 206.1 1183.9 206.0 1184.0 210.7 1184.2 207.3 1184.3 206.3 1184.5 208.5 1184.6 208.2 1184.8 212.2 1184.9 211.6 1185.1 209.3 1185.2 214.7 1185.4 212.0 1185.5 210.6 1185.6 214.8 1185.7 214.6 1185.8 212.3 1186.0 212.7 1186.1 215.0 1186.3 214.7 1186.4 217.4 1186.6 217.4 1186.7 216.8 1186.9 217.7 1186.9 218.5 1187.0 218.7 1187.2 216.4 1187.3 216.6 1187.5 213.5 1187.6 214.3 1187.8 211.5 1187.9 212.1 1188.1 208.7 1188.2 207.9 1188.4 210.9 1188.5 208.5 1188.7 204.3 1188.8 205.6 1189.0 203.6 1189.0 204.0 1189.1 203.6 1189.3 205.6 1189.4 206.6 1189.6 207.5 1189.7 208.2 1189.9 214.5 1190.0 213.2 1190.2 214.1 1190.3 213.6 1190.4 219.0 1190.5 219.2 1190.6 217.2 1190.8 215.4 1190.9 219.0 1191.1 218.3 1191.2 216.0 1191.4 221.6 1191.4 220.1 1191.5 217.2 1191.7 217.7 1191.8 220.6 1192.0 221.4 1192.1 220.6 1192.3 220.6 1192.4 219.2 1192.6 222.8 1192.7 219.7 1192.9 220.7 1193.0 221.2 1193.2 220.2 1193.3 222.1 1193.5 223.6 1193.6 218.4 1193.8 221.0 1193.9 222.5 1194.1 222.3 1194.2 221.4 1194.2 222.0 1194.4 221.7 1194.5 221.6 1194.7 220.3 1194.8 223.0 1195.0 223.2 1195.1 223.7 1195.3 221.4 1195.4 221.1 1195.6 222.7 1195.7 223.3 1195.9 220.3 1196.0 220.4 1196.2 221.1 1196.2 219.7 1196.3 227.4 1196.4 236.1 1196.5 236.1 1196.6 236.2 1196.8 236.1 1196.9 236.4 1197.1 233.0 1197.2 235.7 1197.4 231.8 1197.5 230.5 1197.7 232.5 1197.8 230.4 1198.0 230.4 1198.1 230.8 1198.3 230.9 1198.4 231.6 1198.6 229.4 1198.7 230.0 1198.9 230.3 1199.0 230.1 1199.0 230.3 1199.2 231.9 1199.3 233.2 1199.5 235.2 1199.6 237.1 1199.8 237.4 1199.9 239.3 1200.1 238.9 1200.2 242.4 1200.4 245.2 1200.4 242.8 1200.5 247.2 1200.7 245.6 1200.8 249.8 1201.0 252.2 1201.1 251.4 1201.3 251.8 1201.4 254.7 1201.6 254.8 1201.7 255.4 1201.8 259.6 1201.9 255.7 1202.0 261.5 1202.2 260.1 1202.3 264.6 1202.5 263.6 1202.6 268.7 1202.8 266.6 1202.9 266.2 1203.1 273.2 1203.2 271.7 1203.2 271.7 1203.4 272.9 1203.5 273.4 1203.7 275.5 1203.8 274.8 1204.0 279.8 1204.1 277.0 1204.3 280.3 1204.4 282.6 1204.6 280.9 1204.6 282.9 1204.7 281.4 1204.9 281.6 1205.0 282.9 1205.2 287.1 1205.3 288.0 1205.5 285.6 1205.6 289.4 1205.8 288.5 1205.9 290.2 1206.0 290.8 1206.1 288.7 1206.2 288.6 1206.4 286.2 1206.5 282.6 1206.7 284.9 1206.8 282.8 1207.0 281.4 1207.1 279.3 1207.3 277.7 1207.4 276.5 1207.4 277.2 1207.6 276.7 1207.7 277.1 1207.9 278.6 1208.0 279.5 1208.2 279.0 1208.3 279.0 1208.5 278.2 1208.6 280.5 1208.8 281.1 1208.9 278.4 1209.1 278.9 1209.2 278.9 1209.4 279.7 1209.4 279.8 1209.5 280.6 1209.7 280.4 1209.8 277.1 1210.0 279.7 1210.1 277.5 1210.3 274.8 1210.4 277.5 1210.6 275.4 1210.7 276.7 1210.8 276.7 1210.9 274.4 1211.0 277.1 1211.2 273.7 1211.3 271.0 1211.5 268.6 1211.6 273.0 1211.8 268.0 1211.9 268.3 1212.1 267.3 1212.2 266.6 1212.2 265.4 1212.4 265.5 1212.5 266.7 1212.7 264.5 1212.8 266.6 1213.0 270.1 1213.1 266.5 1213.3 269.0 1213.4 266.3 1213.6 270.1 1213.7 268.4 1213.9 269.0 1213.9 268.8 1214.0 261.4 1214.2 254.8 1214.3 246.3 1214.3 245.0 1214.5 243.8 1214.6 242.6 1214.8 241.6 1214.9 240.0 1215.1 236.7 1215.2 235.6 1215.4 237.7 1215.5 232.7 1215.7 233.9 1215.7 230.5 1215.8 230.5 1216.0 227.1 1216.1 224.0 1216.3 223.9 1216.4 224.7 1216.6 223.8 1216.7 221.8 1216.9 217.3 1217.0 216.0 1217.1 213.9 1217.2 215.5 1217.3 214.9 1217.5 212.4 1217.6 209.2 1217.8 209.7 1217.9 207.7 1218.1 206.7 1218.2 204.5 1218.4 203.3 1218.5 201.8 1218.5 202.0 1218.7 202.1 1218.8 204.1 1219.0 204.8 1219.1 203.6 1219.3 208.7 1219.4 208.9 1219.6 210.4 1219.7 208.1 1219.9 208.6 1219.9 209.7 1220.0 212.1 1220.2 214.4 1220.3 211.5 1220.5 214.3 1220.6 213.3 1220.8 216.8 1220.9 220.2 1221.1 221.1 1221.2 224.1 1221.2 222.7 1221.4 221.0 1221.5 220.5 1221.7 222.4 1221.8 225.0 1222.0 220.1 1222.1 220.8 1222.3 222.7 1222.4 222.2 1222.6 224.4 1222.6 222.2 1222.7 223.8 1222.9 225.0 1223.0 226.8 1223.2 230.1 1223.3 226.9 1223.5 227.8 1223.6 229.2 1223.8 232.7 1223.9 234.7 1224.0 236.4 1224.1 236.4 1224.2 237.6 1224.4 236.3 1224.5 239.3 1224.7 242.6 1224.8 241.3 1225.0 244.1 1225.1 245.6 1225.3 248.8 1225.4 247.8 1225.4 246.8 1225.6 250.1 1225.7 251.6 1225.9 254.9 1226.0 253.7 1226.2 255.7 1226.3 256.6 1226.5 258.0 1226.6 263.0 1226.8 258.9 1226.8 262.9 1226.9 261.9 1227.1 265.2 1227.2 265.4 1227.4 268.8 1227.5 269.8 1227.5 270.3 1227.7 269.5 1227.8 265.9 1228.0 263.5 1228.1 266.6 1228.3 266.0 1228.4 261.9 1228.6 258.9 1228.7 258.4 1228.9 258.4 1228.9 258.6 1229.0 259.7 1229.2 260.8 1229.3 266.1 1229.5 264.4 1229.6 267.9 1229.8 270.3 1229.9 272.9 1230.1 276.5 1230.2 277.9 1230.3 279.4 1230.4 277.8 1230.5 274.8 1230.7 272.4 1230.8 266.6 1231.0 261.8 1231.1 261.0 1231.3 257.6 1231.4 255.1 1231.4 254.9 1231.6 256.2 1231.7 255.4 1231.9 258.7 1232.0 260.9 1232.2 259.1 1232.3 259.7 1232.5 261.4 1232.6 262.0 1232.8 262.8 1232.9 262.9 1233.1 262.8 1233.1 266.2 1233.2 263.1 1233.4 268.8 1233.5 267.0 1233.7 271.0 1233.8 270.8 1234.0 272.6 1234.1 274.8 1234.2 275.3 1234.3 275.7 1234.4 273.3 1234.6 271.7 1234.7 269.9 1234.9 270.4 1235.0 269.3 1235.2 269.2 1235.3 265.9 1235.5 263.9 1235.6 264.7 1235.8 265.2 1235.8 264.5 1235.9 260.6 1236.1 260.0 1236.2 259.9 1236.4 256.8 1236.5 253.9 1236.7 255.2 1236.8 252.7 1237.0 252.3 1237.1 251.8 1237.2 248.5 1237.3 247.2 1237.4 247.3 1237.6 249.4 1237.7 247.6 1237.9 248.2 1238.0 245.7 1238.2 247.1 1238.3 244.4 1238.5 243.8 1238.6 244.1 1238.8 243.5 1238.9 243.0 1238.9 243.3 1239.1 244.4 1239.2 243.5 1239.4 242.2 1239.5 246.0 1239.7 248.6 1239.8 248.1 1240.0 244.8 1240.1 248.2 1240.3 249.8 1240.4 250.0 1240.6 251.7 1240.7 250.8 1240.7 247.2 1240.9 253.4 1241.0 253.7 1241.2 256.0 1241.3 257.5 1241.5 260.5 1241.6 264.6 1241.7 267.9 1241.8 269.1 1241.9 269.9 1242.1 272.5 1242.2 271.3 1242.4 272.2 1242.5 278.0 1242.7 277.7 1242.8 277.9 1243.0 281.4 1243.1 280.8 1243.3 284.5 1243.4 284.3 1243.5 285.3 1243.6 284.2 1243.7 282.3 1243.9 279.0 1244.0 280.4 1244.2 278.2 1244.3 275.4 1244.5 274.5 1244.6 270.9 1244.8 271.6 1244.9 267.8 1244.9 266.1 1245.1 265.5 1245.2 263.3 1245.4 262.1 1245.5 260.1 1245.7 258.2 1245.8 254.5 1245.8 254.2 1246.0 256.2 1246.1 258.6 1246.3 260.0 1246.4 259.5 1246.6 260.5 1246.7 261.6 1246.9 266.0 1247.0 264.1 1247.2 266.3 1247.2 264.0 1247.3 268.7 1247.5 268.4 1247.6 269.7 1247.8 271.1 1247.9 272.9 1248.1 277.3 1248.2 277.2 1248.3 278.4 1248.4 276.2 1248.5 275.9 1248.7 276.5 1248.8 279.2 1249.0 281.4 1249.1 282.4 1249.3 280.4 1249.4 284.9 1249.6 283.7 1249.7 287.5 1249.7 285.1 1249.9 286.3 1250.0 285.5 1250.2 286.2 1250.3 288.1 1250.5 289.6 1250.6 290.4 1250.8 288.6 1250.9 288.3 1251.1 291.7 1251.2 293.8 1251.4 291.5 1251.5 292.4 1251.7 293.1 1251.8 294.1 1251.8 294.3 1252.0 292.4 1252.1 292.5 1252.3 293.4 1252.4 291.3 1252.6 288.0 1252.7 286.0 1252.9 287.6 1253.0 289.0 1253.2 287.1 1253.2 288.1 1253.3 282.1 1253.5 279.4 1253.6 274.5 1253.8 273.4 1253.9 268.7 1254.1 264.2 1254.2 262.8 1254.2 264.4 1254.4 264.8 1254.5 264.6 1254.7 265.8 1254.8 264.4 1255.0 261.4 1255.1 264.7 1255.3 261.4 1255.4 260.9 1255.6 263.9 1255.7 261.6 1255.9 262.5 1256.0 261.6 1256.2 262.0 1256.3 260.3 1256.5 262.7 1256.6 262.6 1256.7 261.9 1256.8 263.7 1256.9 265.4 1257.1 268.0 1257.2 270.4 1257.4 267.4 1257.5 272.5 1257.7 272.4 1257.8 274.8 1258.0 275.6 1258.1 277.3 1258.1 274.5 1258.3 267.3 1258.4 261.4 1258.6 254.9 1258.7 248.5 1258.8 248.4 1258.9 244.5 1259.0 242.8 1259.2 246.2 1259.3 244.0 1259.5 241.7 1259.6 240.5 1259.8 238.2 1259.9 239.3 1260.1 236.0 1260.1 238.7 1260.2 238.0 1260.4 234.6 1260.5 235.6 1260.7 233.4 1260.8 230.6 1261.0 227.2 1261.1 225.6 1261.3 223.3 1261.4 220.2 1261.5 221.8 1261.6 222.8 1261.7 218.3 1261.9 220.8 1262.0 219.1 1262.2 219.0 1262.3 219.4 1262.5 218.9 1262.6 216.1 1262.8 216.5 1262.9 215.2 1262.9 214.6 1263.1 216.6 1263.2 216.2 1263.4 216.0 1263.5 219.2 1263.7 218.0 1263.8 216.6 1264.0 218.3 1264.1 218.8 1264.3 218.3 1264.4 216.2 1264.6 219.6 1264.7 218.0 1264.9 218.2 1265.0 220.4 1265.0 223.2 1265.2 219.8 1265.3 223.7 1265.5 222.0 1265.6 223.2 1265.8 226.6 1265.9 230.1 1266.1 230.2 1266.2 231.4 1266.4 233.3 1266.4 233.0 1266.5 231.7 1266.7 230.2 1266.8 229.7 1267.0 229.9 1267.1 227.8 1267.3 227.1 1267.4 225.6 1267.6 224.3 1267.7 222.7 1267.9 222.5 1268.0 225.7 1268.2 223.9 1268.3 223.6 1268.5 220.5 1268.5 220.1 1268.6 219.3 1268.8 214.9 1268.9 215.2 1269.1 211.1 1269.2 209.9 1269.4 204.8 1269.4 207.7 1269.5 205.0 1269.7 205.0 1269.8 201.9 1270.0 201.2 1270.1 202.8 1270.3 198.1 1270.4 202.3 1270.6 198.6 1270.7 199.4 1270.9 197.5 1271.0 197.3 1271.0 197.9 1271.2 200.1 1271.3 200.0 1271.5 203.6 1271.6 204.7 1271.8 207.1 1271.9 206.0 1272.1 209.0 1272.2 209.3 1272.2 209.9 1272.4 214.3 1272.5 216.3 1272.7 214.6 1272.8 217.8 1273.0 219.9 1273.1 221.1 1273.3 223.5 1273.3 223.9 1273.4 224.3 1273.6 222.6 1273.7 224.5 1273.9 219.2 1274.0 222.2 1274.2 221.6 1274.3 218.7 1274.5 216.4 1274.6 218.7 1274.8 215.6 1274.9 218.9 1275.1 216.5 1275.2 215.6 1275.4 215.0 1275.4 215.1 1275.5 215.4 1275.7 216.8 1275.8 217.7 1276.0 217.2 1276.1 220.9 1276.3 222.7 1276.4 222.8 1276.6 222.0 1276.7 223.9 1276.9 222.4 1277.0 224.0 1277.2 225.1 1277.2 225.5 1277.3 225.3 1277.5 222.7 1277.6 221.1 1277.8 218.0 1277.9 217.9 1278.1 215.0 1278.2 217.7 1278.4 214.5 1278.5 214.9 1278.7 214.2 1278.8 211.3 1278.9 210.4 1279.0 209.9 1279.1 208.7 1279.3 206.6 1279.4 209.3 1279.6 207.6 1279.7 206.9 1279.9 207.6 1280.0 208.1 1280.2 208.3 1280.3 207.3 1280.3 208.4 1280.5 213.9 1280.6 218.0 1280.8 222.9 1280.9 225.3 1281.0 224.8 1281.1 231.5 1281.2 234.5 1281.4 234.6 1281.5 239.4 1281.7 243.7 1281.8 247.8 1282.0 249.8 1282.1 251.8 1282.3 254.4 1282.4 256.2 1282.4 254.9 1282.6 250.8 1282.7 248.4 1282.9 244.2 1283.0 239.9 1283.2 235.0 1283.3 233.2 1283.3 232.2 1283.5 233.0 1283.6 230.3 1283.8 232.6 1283.9 230.8 1284.1 233.2 1284.2 228.8 1284.4 232.3 1284.5 231.8 1284.7 228.7 1284.8 229.9 1285.0 228.4 1285.1 226.7 1285.1 227.0 1285.3 231.0 1285.4 234.4 1285.6 238.5 1285.7 241.5 1285.8 244.7 1285.9 243.0 1286.0 239.1 1286.2 235.8 1286.3 233.3 1286.5 228.6 1286.6 226.7 1286.8 223.3 1286.9 219.9 1286.9 219.6 1287.1 221.6 1287.2 225.3 1287.4 227.1 1287.5 230.9 1287.7 229.7 1287.8 234.7 1288.0 236.5 1288.1 237.0 1288.3 244.1 1288.4 244.0 1288.6 247.8 1288.6 248.5 1288.7 247.0 1288.9 243.8 1289.0 239.7 1289.2 240.8 1289.3 237.3 1289.5 236.4 1289.6 232.8 1289.8 231.7 1289.9 228.7 1290.0 227.1 1290.1 228.1 1290.2 227.1 1290.4 225.7 1290.5 228.3 1290.7 229.1 1290.8 229.4 1291.0 227.8 1291.1 228.8 1291.3 227.6 1291.4 228.6 1291.6 230.6 1291.7 228.8 1291.9 231.1 1292.0 229.7 1292.1 230.3 1292.2 230.7 1292.3 235.0 1292.5 235.0 1292.6 235.3 1292.8 238.6 1292.9 242.2 1293.1 242.5 1293.2 242.0 1293.4 244.3 1293.5 245.1 1293.5 249.2 1293.7 247.7 1293.8 249.3 1294.0 249.7 1294.1 248.2 1294.3 251.0 1294.4 249.4 1294.6 250.6 1294.7 247.7 1294.9 250.8 1294.9 250.3 1295.0 250.3 1295.2 252.5 1295.3 250.6 1295.5 252.9 1295.6 251.2 1295.8 254.1 1295.9 253.9 1296.1 258.4 1296.2 256.6 1296.2 257.4 1296.4 254.7 1296.5 258.0 1296.7 258.0 1296.8 263.5 1297.0 264.2 1297.1 264.0 1297.3 265.3 1297.4 266.4 1297.6 267.6 1297.6 268.5 1297.7 267.9 1297.9 266.3 1298.0 264.4 1298.2 266.9 1298.3 262.3 1298.5 260.7 1298.6 263.5 1298.8 259.9 1298.9 258.3 1299.0 255.5 1299.1 255.5 1299.2 258.0 1299.4 253.5 1299.5 254.3 1299.7 248.9 1299.8 250.5 1300.0 247.7 1300.1 245.1 1300.3 241.4 1300.4 244.9 1300.4 242.8 1300.6 241.8 1300.7 242.6 1300.9 238.7 1301.0 242.0 1301.2 240.2 1301.3 239.0 1301.5 238.0 1301.6 236.1 1301.8 235.7 1301.8 235.8 1301.9 236.7 1302.1 240.0 1302.2 241.7 1302.4 244.6 1302.5 241.5 1302.7 248.3 1302.8 246.6 1303.0 247.9 1303.1 250.4 1303.3 254.2 1303.4 254.6 1303.6 256.2 1303.6 257.0 1303.7 254.9 1303.9 252.7 1304.0 250.2 1304.2 246.7 1304.3 244.2 1304.5 238.3 1304.6 238.3 1304.6 235.3 1304.8 237.0 1304.9 236.3 1305.1 233.8 1305.2 233.1 1305.4 234.8 1305.5 231.3 1305.7 230.9 1305.8 232.4 1306.0 229.3 1306.0 230.3 1306.1 228.9 1306.3 228.6 1306.4 228.9 1306.6 226.1 1306.7 227.1 1306.9 224.5 1307.0 224.0 1307.2 225.2 1307.3 222.6 1307.5 221.2 1307.6 222.2 1307.8 222.4 1307.8 221.2 1307.9 223.4 1308.1 224.3 1308.2 223.9 1308.4 227.1 1308.5 226.4 1308.7 232.7 1308.8 231.5 1309.0 234.3 1309.1 235.1 1309.2 233.1 1309.3 235.4 1309.4 238.8 1309.6 238.9 1309.7 237.7 1309.9 237.9 1310.0 239.7 1310.2 238.4 1310.3 241.7 1310.5 240.1 1310.6 242.3 1310.8 244.0 1310.8 243.9 1310.9 242.4 1311.1 240.9 1311.2 238.5 1311.4 237.3 1311.5 236.7 1311.7 232.8 1311.8 228.3 1312.0 229.8 1312.1 225.8 1312.2 227.7 1312.3 227.1 1312.4 224.2 1312.6 223.8 1312.7 219.4 1312.9 217.9 1313.0 218.8 1313.2 218.8 1313.3 219.3 1313.5 214.7 1313.6 213.2 1313.6 213.2 1313.8 212.5 1313.9 213.1 1314.1 209.6 1314.2 212.3 1314.4 207.9 1314.5 212.0 1314.7 208.1 1314.8 207.6 1315.0 203.8 1315.0 206.9 1315.1 203.5 1315.3 207.5 1315.4 204.9 1315.6 206.2 1315.7 206.5 1315.9 207.1 1316.0 207.6 1316.2 207.1 1316.3 206.3 1316.5 203.9 1316.6 203.0 1316.8 205.4 1316.9 204.6 1317.1 204.1 1317.1 204.3 1317.2 206.4 1317.4 208.6 1317.5 208.7 1317.7 209.2 1317.8 210.5 1318.0 214.2 1318.1 216.4 1318.3 217.7 1318.4 220.9 1318.5 221.8 1318.6 219.2 1318.7 218.2 1318.9 215.4 1319.0 214.5 1319.2 211.8 1319.3 209.4 1319.5 209.1 1319.6 206.6 1319.8 202.7 1319.9 203.0 1319.9 200.9 1320.1 201.1 1320.2 201.4 1320.4 200.5 1320.5 196.3 1320.7 199.2 1320.8 195.4 1321.0 197.0 1321.1 197.1 1321.2 192.8 1321.3 193.4 1321.4 196.1 1321.6 194.7 1321.7 190.9 1321.9 194.7 1322.0 191.6 1322.2 190.1 1322.3 192.0 1322.5 190.0 1322.6 190.6 1322.8 190.3 1322.9 190.3 1323.1 189.5 1323.1 189.3 1323.2 190.5 1323.4 192.1 1323.5 193.8 1323.7 193.2 1323.8 196.4 1324.0 195.7 1324.1 197.2 1324.3 199.2 1324.4 202.4 1324.4 202.2 1324.6 199.5 1324.7 205.9 1324.9 205.6 1325.0 207.2 1325.2 211.2 1325.3 209.1 1325.5 210.2 1325.6 210.9 1325.8 213.9 1325.9 217.4 1326.1 218.1 1326.1 218.4 1326.2 218.6 1326.4 216.9 1326.5 216.1 1326.7 215.2 1326.8 216.6 1327.0 214.1 1327.1 213.8 1327.3 213.7 1327.4 210.7 1327.6 212.3 1327.7 209.5 1327.8 209.9 1327.9 210.0 1328.0 209.3 1328.2 207.0 1328.3 207.5 1328.5 204.3 1328.6 203.3 1328.8 199.9 1328.9 198.3 1328.9 201.9 1329.1 195.3 1329.2 198.8 1329.4 194.5 1329.5 195.7 1329.7 191.3 1329.8 193.2 1330.0 191.8 1330.0 188.4 1330.1 189.5 1330.3 191.2 1330.4 191.3 1330.6 189.5 1330.7 187.6 1330.9 187.9 1331.0 185.9 1331.2 186.3 1331.3 186.6 1331.4 186.2 1331.5 187.3 1331.6 188.3 1331.8 190.2 1331.9 190.5 1332.1 193.0 1332.2 196.1 1332.4 192.9 1332.5 196.1 1332.7 196.3 1332.8 198.8 1332.8 199.0 1333.0 197.6 1333.1 200.0 1333.3 200.8 1333.4 201.1 1333.6 202.5 1333.7 205.1 1333.9 204.5 1334.0 203.8 1334.2 205.4 1334.3 208.5 1334.4 205.4 1334.5 208.5 1334.6 206.7 1334.8 206.3 1334.9 209.1 1335.1 212.0 1335.2 212.2 1335.4 212.6 1335.5 213.7 1335.7 214.6 1335.8 215.6 1335.8 216.5 1336.0 216.5 1336.1 221.8 1336.3 223.5 1336.4 225.0 1336.6 227.9 1336.7 228.2 1336.9 230.5 1336.9 230.6 1337.0 230.7 1337.2 228.8 1337.3 228.4 1337.5 227.5 1337.6 224.3 1337.8 221.0 1337.9 222.1 1338.1 221.5 1338.2 219.8 1338.4 216.7 1338.5 215.1 1338.6 214.6 1338.7 214.5 1338.8 214.6 1339.0 216.9 1339.1 218.0 1339.3 219.1 1339.4 217.3 1339.6 219.4 1339.7 218.2 1339.9 218.5 1340.0 222.4 1340.0 219.1 1340.2 222.6 1340.3 227.3 1340.5 227.9 1340.6 228.3 1340.8 229.6 1340.9 229.6 1341.1 230.3 1341.2 235.4 1341.4 233.6 1341.4 233.1 1341.5 236.7 1341.7 237.1 1341.8 241.1 1342.0 239.5 1342.1 240.8 1342.3 243.2 1342.4 248.2 1342.6 248.7 1342.7 249.2 1342.8 249.6 1342.9 251.8 1343.0 252.4 1343.2 257.7 1343.3 258.8 1343.5 262.8 1343.6 265.3 1343.8 268.2 1343.9 270.0 1343.9 270.4 1344.1 268.7 1344.2 266.1 1344.4 266.2 1344.5 263.4 1344.7 263.1 1344.8 262.2 1345.0 259.0 1345.1 257.9 1345.3 256.5 1345.3 256.4 1345.4 257.6 1345.6 257.5 1345.7 255.8 1345.9 258.1 1346.0 257.4 1346.2 261.3 1346.3 258.0 1346.5 257.5 1346.6 261.0 1346.8 259.3 1346.9 259.9 1346.9 260.2 1347.1 260.6 1347.2 262.4 1347.4 261.7 1347.5 265.6 1347.7 268.2 1347.8 271.2 1348.0 269.9 1348.1 271.8 1348.3 272.2 1348.3 273.8 1348.4 273.9 1348.6 273.3 1348.7 272.7 1348.9 273.2 1349.0 275.7 1349.2 271.0 1349.3 275.2 1349.5 271.5 1349.6 271.7 1349.8 273.6 1349.9 274.2 1350.1 274.7 1350.2 275.5 1350.4 271.2 1350.4 273.2 1350.5 273.5 1350.7 271.3 1350.8 271.4 1351.0 268.2 1351.1 266.3 1351.3 262.6 1351.4 261.3 1351.6 264.0 1351.7 259.5 1351.8 261.1 1351.9 261.4 1352.0 259.6 1352.2 260.8 1352.3 257.5 1352.5 258.9 1352.6 257.1 1352.8 254.3 1352.9 253.4 1353.1 255.2 1353.2 257.7 1353.2 256.8 1353.4 254.8 1353.5 254.3 1353.7 253.5 1353.8 251.0 1354.0 252.0 1354.1 249.8 1354.3 248.0 1354.4 249.3 1354.6 247.4 1354.6 246.6 1354.7 245.9 1354.9 242.8 1355.0 241.3 1355.2 241.5 1355.3 239.3 1355.5 237.0 1355.6 235.3 1355.8 234.3 1355.9 232.5 1356.1 231.3 1356.2 229.6 1356.2 229.3" fill="none" stroke="#1f77b4" stroke-width="3.7" stroke-linejoin="round" stroke-linecap="round"/>
<line x1="110.4" y1="360.5" x2="1416.0" y2="360.5" stroke="#ff0000" stroke-width="3.1"/>
<path d="M110.4 800.2V152.2H1416.0" fill="none" stroke="#505050" stroke-width="2.4" stroke-linejoin="round" stroke-linecap="square"/>
<path d="M110.4 800.2H1415.9V152.2" fill="none" stroke="#2e2e2e" stroke-width="2.0" stroke-linejoin="round" stroke-linecap="square"/>
<line x1="170.8" y1="800.0" x2="170.8" y2="806.8" stroke="#505050" stroke-width="1.9"/>
<line x1="409.6" y1="800.0" x2="409.6" y2="806.8" stroke="#505050" stroke-width="1.9"/>
<line x1="649.5" y1="800.0" x2="649.5" y2="806.8" stroke="#505050" stroke-width="1.9"/>
<line x1="889.6" y1="800.0" x2="889.6" y2="806.8" stroke="#505050" stroke-width="1.9"/>
<line x1="1129.6" y1="800.0" x2="1129.6" y2="806.8" stroke="#505050" stroke-width="1.9"/>
<line x1="1369.8" y1="800.0" x2="1369.8" y2="806.8" stroke="#505050" stroke-width="1.9"/>
<line x1="103.2" y1="783.0" x2="110.4" y2="783.0" stroke="#505050" stroke-width="1.9"/>
<line x1="103.2" y1="647.0" x2="110.4" y2="647.0" stroke="#505050" stroke-width="1.9"/>
<line x1="103.2" y1="509.6" x2="110.4" y2="509.6" stroke="#505050" stroke-width="1.9"/>
<line x1="103.2" y1="372.1" x2="110.4" y2="372.1" stroke="#505050" stroke-width="1.9"/>
<line x1="103.2" y1="236.2" x2="110.4" y2="236.2" stroke="#505050" stroke-width="1.9"/>
<rect x="120.3" y="162.2" width="334.1" height="34.7" rx="4" fill="#fff" fill-opacity="0.8" stroke="#cccccc" stroke-opacity="0.85" stroke-width="1.7"/>
<line x1="126.2" y1="176.9" x2="168.6" y2="176.9" stroke="#ff0000" stroke-width="3.1"/>
</g>
<g id="labels" filter="url(#t)" font-family="'Liberation Sans', sans-serif" fill="#0c0c0c">
<text x="182.3" y="185.2" font-size="20" textLength="262.5" lengthAdjust="spacingAndGlyphs">Mean Performance: 0.3084</text>
<text x="95.4" y="243.4" font-size="19" text-anchor="end">0.4</text>
<text x="95.4" y="381.2" font-size="19" text-anchor="end">0.3</text>
<text x="95.4" y="516.95" font-size="19" text-anchor="end">0.2</text>
<text x="95.4" y="654.4" font-size="19" text-anchor="end">0.1</text>
<text x="95.4" y="791.9" font-size="19" text-anchor="end">0.0</text>
<text x="170.8" y="828.85" font-size="19" text-anchor="middle">0</text>
<text x="409.6" y="828.85" font-size="19" text-anchor="middle">2000</text>
<text x="649.5" y="828.85" font-size="19" text-anchor="middle">4000</text>
<text x="889.6" y="828.85" font-size="19" text-anchor="middle">6000</text>
<text x="1129.6" y="828.85" font-size="19" text-anchor="middle">8000</text>
<text x="1368.7" y="828.85" font-size="19" text-anchor="middle">10000</text>
<text x="564.3" y="856.4" font-size="20" textLength="395.5" lengthAdjust="spacingAndGlyphs">Episodes (Averaged every 100 episodes)</text>
<text x="474.6" y="139.9" font-size="24" textLength="573.5" lengthAdjust="spacingAndGlyphs">Learning Performance Over Episodes (Smoothed)</text>
<text transform="translate(52.3,556.35) rotate(-90)" x="0" y="0" font-size="20" textLength="156.4" lengthAdjust="spacingAndGlyphs">Average Reward</text>
</g>
</svg>
</body></html>
